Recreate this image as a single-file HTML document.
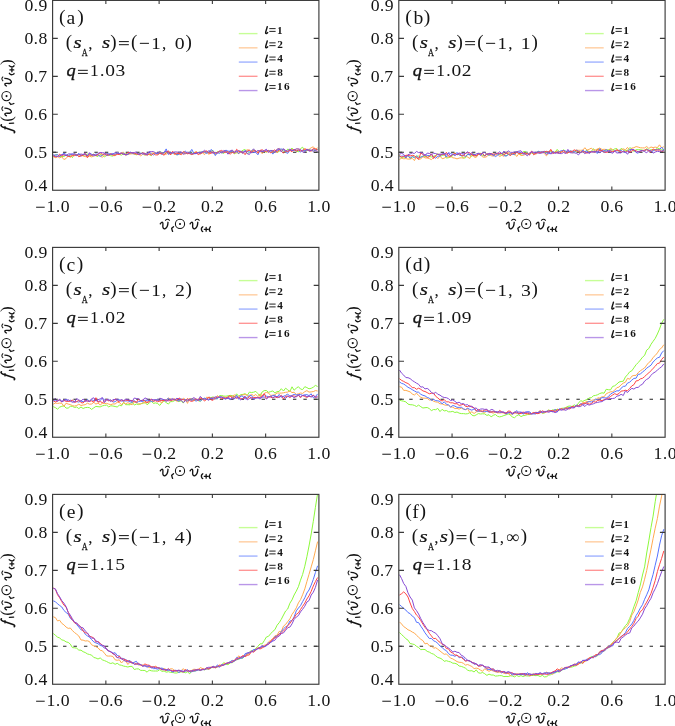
<!DOCTYPE html>
<html><head><meta charset="utf-8"><style>
html,body{margin:0;padding:0;background:#fff;width:675px;height:726px;overflow:hidden}
svg{position:absolute;left:0;top:0;will-change:transform}
text{font-family:"Liberation Serif",serif;fill:#141414}
</style></head><body>
<svg width="675" height="726" viewBox="0 0 675 726">

<clipPath id="cp00"><rect x="52.60" y="0.40" width="266.30" height="189.85"/></clipPath>
<line x1="52.60" y1="152.28" x2="318.90" y2="152.28" stroke="#222" stroke-width="1.1" stroke-dasharray="3.4 7.05"/>
<g clip-path="url(#cp00)" fill="none" stroke-width="1" stroke-linejoin="round">
<path stroke="rgb(140,248,60)" d="M53.3 156.4L55.4 154.8L57.5 154.8L59.7 156.7L61.8 156.4L63.9 156.5L66.1 155.2L68.2 155.8L70.3 154.8L72.4 157.7L74.6 153.7L76.7 155.5L78.8 154.6L81.0 155.4L83.1 155.6L85.2 154.6L87.4 154.1L89.5 155.2L91.6 155.1L93.8 154.1L95.9 155.8L98.0 156.5L100.2 154.3L102.3 155.4L104.4 156.8L106.6 155.5L108.7 155.0L110.8 155.8L112.9 156.1L115.1 154.3L117.2 153.3L119.3 154.5L121.5 155.1L123.6 153.7L125.7 153.3L127.9 154.4L130.0 153.4L132.1 152.8L134.3 154.2L136.4 154.8L138.5 153.5L140.7 153.5L142.8 152.5L144.9 155.2L147.1 154.4L149.2 154.6L151.3 155.6L153.4 153.4L155.6 152.9L157.7 154.3L159.8 151.9L162.0 152.5L164.1 152.7L166.2 152.9L168.4 152.2L170.5 154.8L172.6 152.5L174.8 152.5L176.9 155.2L179.0 152.7L181.2 153.4L183.3 152.2L185.4 153.5L187.5 153.0L189.7 152.6L191.8 153.9L193.9 152.2L196.1 153.0L198.2 152.2L200.3 153.4L202.5 151.5L204.6 152.0L206.7 152.9L208.9 151.9L211.0 151.1L213.1 150.5L215.3 154.3L217.4 151.4L219.5 151.9L221.7 152.5L223.8 153.5L225.9 150.8L228.0 153.7L230.2 151.5L232.3 150.6L234.4 153.9L236.6 152.4L238.7 153.5L240.8 151.7L243.0 150.2L245.1 149.5L247.2 153.8L249.4 152.4L251.5 150.9L253.6 149.8L255.8 151.1L257.9 152.3L260.0 151.1L262.2 151.4L264.3 151.5L266.4 152.1L268.5 150.8L270.7 150.8L272.8 151.2L274.9 151.3L277.1 152.4L279.2 151.4L281.3 149.5L283.5 151.0L285.6 152.3L287.7 149.1L289.9 150.0L292.0 148.1L294.1 150.4L296.3 150.9L298.4 151.9L300.5 148.7L302.6 147.2L304.8 151.0L306.9 150.8L309.0 149.3L311.2 150.8L313.3 150.1L315.4 150.1L317.6 149.4"/>
<path stroke="rgb(255,170,80)" d="M53.3 156.7L55.4 157.7L57.5 156.5L59.7 157.9L61.8 156.8L63.9 159.5L66.1 158.5L68.2 155.8L70.3 157.3L72.4 155.8L74.6 155.7L76.7 154.7L78.8 155.2L81.0 154.8L83.1 156.0L85.2 156.6L87.4 156.6L89.5 156.2L91.6 156.9L93.8 156.1L95.9 155.5L98.0 155.1L100.2 155.7L102.3 157.4L104.4 155.2L106.6 154.8L108.7 153.8L110.8 154.3L112.9 155.6L115.1 155.7L117.2 152.5L119.3 153.9L121.5 152.6L123.6 152.2L125.7 155.5L127.9 154.1L130.0 154.0L132.1 153.8L134.3 153.8L136.4 154.1L138.5 154.1L140.7 155.9L142.8 154.3L144.9 155.0L147.1 153.9L149.2 154.5L151.3 153.2L153.4 153.0L155.6 153.5L157.7 153.4L159.8 153.6L162.0 154.2L164.1 153.8L166.2 154.2L168.4 153.1L170.5 153.5L172.6 152.8L174.8 155.0L176.9 152.4L179.0 154.2L181.2 154.1L183.3 153.5L185.4 153.9L187.5 152.9L189.7 153.8L191.8 154.3L193.9 154.0L196.1 151.5L198.2 152.9L200.3 154.2L202.5 152.9L204.6 154.6L206.7 150.7L208.9 154.5L211.0 152.1L213.1 152.0L215.3 154.2L217.4 152.2L219.5 151.3L221.7 151.9L223.8 152.0L225.9 151.2L228.0 152.0L230.2 151.8L232.3 152.2L234.4 151.3L236.6 153.0L238.7 151.0L240.8 152.4L243.0 153.0L245.1 151.2L247.2 149.7L249.4 150.4L251.5 152.0L253.6 150.6L255.8 151.8L257.9 151.3L260.0 151.0L262.2 153.7L264.3 150.7L266.4 152.0L268.5 151.6L270.7 152.4L272.8 152.3L274.9 151.6L277.1 149.5L279.2 148.4L281.3 150.3L283.5 148.9L285.6 150.4L287.7 152.1L289.9 149.7L292.0 149.3L294.1 150.2L296.3 149.2L298.4 148.8L300.5 150.4L302.6 151.0L304.8 149.4L306.9 149.3L309.0 149.4L311.2 147.7L313.3 146.8L315.4 149.1L317.6 147.8"/>
<path stroke="rgb(85,115,255)" d="M53.3 155.0L55.4 155.1L57.5 154.6L59.7 156.2L61.8 154.8L63.9 153.2L66.1 154.5L68.2 156.1L70.3 154.6L72.4 153.7L74.6 154.7L76.7 155.7L78.8 153.2L81.0 156.3L83.1 154.2L85.2 154.8L87.4 156.0L89.5 153.2L91.6 154.2L93.8 155.8L95.9 153.8L98.0 154.9L100.2 156.5L102.3 155.1L104.4 153.9L106.6 153.4L108.7 153.9L110.8 154.0L112.9 153.5L115.1 154.2L117.2 152.6L119.3 153.7L121.5 153.5L123.6 153.2L125.7 154.9L127.9 154.5L130.0 151.9L132.1 153.2L134.3 153.9L136.4 153.1L138.5 154.0L140.7 153.1L142.8 154.2L144.9 153.1L147.1 155.1L149.2 151.8L151.3 153.8L153.4 155.0L155.6 153.5L157.7 153.6L159.8 153.0L162.0 154.4L164.1 152.6L166.2 148.9L168.4 154.5L170.5 152.6L172.6 153.3L174.8 152.7L176.9 155.0L179.0 154.2L181.2 152.4L183.3 152.9L185.4 151.0L187.5 153.6L189.7 152.6L191.8 149.4L193.9 153.6L196.1 153.7L198.2 152.7L200.3 152.7L202.5 151.7L204.6 152.4L206.7 153.4L208.9 152.3L211.0 149.5L213.1 151.0L215.3 155.6L217.4 152.6L219.5 153.4L221.7 151.6L223.8 152.5L225.9 150.1L228.0 151.2L230.2 151.2L232.3 151.9L234.4 152.2L236.6 151.7L238.7 150.6L240.8 151.4L243.0 152.4L245.1 150.5L247.2 151.6L249.4 151.9L251.5 152.7L253.6 152.4L255.8 152.4L257.9 154.8L260.0 150.4L262.2 150.9L264.3 151.7L266.4 150.2L268.5 150.9L270.7 150.9L272.8 154.1L274.9 151.5L277.1 150.6L279.2 149.3L281.3 149.0L283.5 149.4L285.6 152.3L287.7 153.4L289.9 150.2L292.0 150.7L294.1 149.6L296.3 150.8L298.4 150.3L300.5 152.2L302.6 150.0L304.8 150.9L306.9 150.0L309.0 149.8L311.2 150.4L313.3 149.8L315.4 150.1L317.6 149.2"/>
<path stroke="rgb(255,70,70)" d="M53.3 155.9L55.4 156.9L57.5 156.9L59.7 154.1L61.8 156.1L63.9 154.8L66.1 155.4L68.2 156.4L70.3 156.5L72.4 155.4L74.6 155.2L76.7 154.7L78.8 156.8L81.0 155.9L83.1 155.3L85.2 153.3L87.4 157.8L89.5 154.5L91.6 155.6L93.8 154.4L95.9 155.4L98.0 154.4L100.2 152.9L102.3 154.3L104.4 154.1L106.6 154.1L108.7 155.4L110.8 153.8L112.9 154.7L115.1 155.3L117.2 154.4L119.3 154.5L121.5 153.4L123.6 154.2L125.7 154.7L127.9 152.4L130.0 152.9L132.1 152.6L134.3 153.3L136.4 154.0L138.5 154.3L140.7 154.1L142.8 152.7L144.9 153.6L147.1 155.4L149.2 153.7L151.3 155.2L153.4 153.4L155.6 154.9L157.7 154.9L159.8 153.3L162.0 153.5L164.1 155.3L166.2 152.5L168.4 150.8L170.5 155.0L172.6 151.2L174.8 154.0L176.9 153.7L179.0 153.3L181.2 154.7L183.3 151.6L185.4 152.5L187.5 153.8L189.7 153.3L191.8 154.6L193.9 153.3L196.1 151.8L198.2 154.8L200.3 153.3L202.5 152.6L204.6 151.5L206.7 151.1L208.9 153.1L211.0 153.4L213.1 152.0L215.3 152.9L217.4 152.8L219.5 151.2L221.7 150.4L223.8 152.0L225.9 152.5L228.0 151.6L230.2 154.3L232.3 152.2L234.4 153.3L236.6 149.3L238.7 151.2L240.8 151.8L243.0 152.1L245.1 154.7L247.2 151.0L249.4 149.9L251.5 152.5L253.6 150.8L255.8 150.7L257.9 153.3L260.0 150.4L262.2 149.8L264.3 151.1L266.4 151.3L268.5 150.3L270.7 152.9L272.8 151.0L274.9 149.8L277.1 152.4L279.2 149.8L281.3 151.3L283.5 153.1L285.6 150.8L287.7 151.7L289.9 150.2L292.0 151.8L294.1 149.2L296.3 151.2L298.4 149.9L300.5 150.9L302.6 150.5L304.8 148.7L306.9 149.8L309.0 150.4L311.2 151.3L313.3 148.5L315.4 148.9L317.6 150.0"/>
<path stroke="rgb(135,75,212)" d="M53.3 155.0L55.4 156.4L57.5 156.3L59.7 156.0L61.8 154.6L63.9 154.6L66.1 155.8L68.2 154.0L70.3 153.9L72.4 154.5L74.6 153.5L76.7 155.0L78.8 154.7L81.0 154.0L83.1 154.5L85.2 153.5L87.4 155.8L89.5 152.7L91.6 155.1L93.8 154.4L95.9 155.7L98.0 153.4L100.2 152.5L102.3 152.7L104.4 152.9L106.6 155.6L108.7 154.7L110.8 154.2L112.9 154.7L115.1 152.3L117.2 153.4L119.3 153.5L121.5 152.9L123.6 154.5L125.7 154.4L127.9 154.3L130.0 152.7L132.1 152.8L134.3 152.5L136.4 151.9L138.5 154.6L140.7 153.7L142.8 152.9L144.9 154.5L147.1 153.6L149.2 151.8L151.3 151.6L153.4 151.6L155.6 152.8L157.7 153.0L159.8 151.5L162.0 153.2L164.1 152.3L166.2 151.2L168.4 153.1L170.5 153.3L172.6 152.6L174.8 151.9L176.9 152.0L179.0 152.3L181.2 151.9L183.3 154.3L185.4 153.4L187.5 152.2L189.7 153.4L191.8 153.9L193.9 153.7L196.1 153.4L198.2 152.5L200.3 153.4L202.5 152.0L204.6 150.3L206.7 152.3L208.9 150.7L211.0 151.8L213.1 153.4L215.3 152.4L217.4 153.1L219.5 151.1L221.7 153.3L223.8 150.4L225.9 151.2L228.0 154.2L230.2 150.9L232.3 150.0L234.4 152.7L236.6 150.6L238.7 153.7L240.8 151.4L243.0 153.5L245.1 151.0L247.2 153.6L249.4 154.5L251.5 151.0L253.6 148.8L255.8 152.0L257.9 150.4L260.0 151.2L262.2 151.6L264.3 150.5L266.4 149.3L268.5 152.5L270.7 150.4L272.8 150.6L274.9 152.6L277.1 149.1L279.2 148.7L281.3 151.9L283.5 148.8L285.6 150.7L287.7 150.9L289.9 149.0L292.0 150.4L294.1 150.2L296.3 148.8L298.4 149.0L300.5 149.4L302.6 152.0L304.8 152.1L306.9 149.0L309.0 151.3L311.2 150.0L313.3 151.4L315.4 150.3L317.6 151.5"/>
</g>
<rect x="52.60" y="0.40" width="266.30" height="189.85" fill="none" stroke="#3a3a3a" stroke-width="1.15"/>
<path d="M105.86 190.25v-3.7M105.86 0.40v3.7M159.12 190.25v-3.7M159.12 0.40v3.7M212.38 190.25v-3.7M212.38 0.40v3.7M265.64 190.25v-3.7M265.64 0.40v3.7M52.60 152.28h5.2M318.90 152.28h-5.2M52.60 114.31h5.2M318.90 114.31h-5.2M52.60 76.34h5.2M318.90 76.34h-5.2M52.60 38.37h5.2M318.90 38.37h-5.2" stroke="#3a3a3a" stroke-width="1.1" fill="none"/>
<text transform="translate(28.95 190.95) scale(1.080 1)" text-anchor="middle" style="font-size:16.40px">0</text>
<text x="35.90" y="190.95" text-anchor="middle" style="font-size:16.40px">.</text>
<text transform="translate(42.86 190.95) scale(1.080 1)" text-anchor="middle" style="font-size:16.40px">4</text>
<text transform="translate(28.95 158.28) scale(1.080 1)" text-anchor="middle" style="font-size:16.40px">0</text>
<text x="35.90" y="158.28" text-anchor="middle" style="font-size:16.40px">.</text>
<text transform="translate(42.72 158.28) scale(1.080 1)" text-anchor="middle" style="font-size:16.40px">5</text>
<text transform="translate(28.95 120.31) scale(1.080 1)" text-anchor="middle" style="font-size:16.40px">0</text>
<text x="35.90" y="120.31" text-anchor="middle" style="font-size:16.40px">.</text>
<text transform="translate(42.76 120.31) scale(1.080 1)" text-anchor="middle" style="font-size:16.40px">6</text>
<text transform="translate(28.95 82.34) scale(1.080 1)" text-anchor="middle" style="font-size:16.40px">0</text>
<text x="35.90" y="82.34" text-anchor="middle" style="font-size:16.40px">.</text>
<text transform="translate(42.60 82.34) scale(1.080 1)" text-anchor="middle" style="font-size:16.40px">7</text>
<text transform="translate(28.95 44.37) scale(1.080 1)" text-anchor="middle" style="font-size:16.40px">0</text>
<text x="35.90" y="44.37" text-anchor="middle" style="font-size:16.40px">.</text>
<text transform="translate(42.90 44.37) scale(1.080 1)" text-anchor="middle" style="font-size:16.40px">8</text>
<text transform="translate(28.95 11.10) scale(1.080 1)" text-anchor="middle" style="font-size:16.40px">0</text>
<text x="35.90" y="11.10" text-anchor="middle" style="font-size:16.40px">.</text>
<text transform="translate(42.99 11.10) scale(1.080 1)" text-anchor="middle" style="font-size:16.40px">9</text>
<path d="M36.10 207.25H44.70" stroke="#2a2a2a" stroke-width="1.10"/>
<text transform="translate(51.03 211.75) scale(1.080 1)" text-anchor="middle" style="font-size:16.40px">1</text>
<text x="58.15" y="211.75" text-anchor="middle" style="font-size:16.40px">.</text>
<text transform="translate(65.10 211.75) scale(1.080 1)" text-anchor="middle" style="font-size:16.40px">0</text>
<path d="M89.36 207.25H97.96" stroke="#2a2a2a" stroke-width="1.10"/>
<text transform="translate(104.56 211.75) scale(1.080 1)" text-anchor="middle" style="font-size:16.40px">0</text>
<text x="111.41" y="211.75" text-anchor="middle" style="font-size:16.40px">.</text>
<text transform="translate(118.22 211.75) scale(1.080 1)" text-anchor="middle" style="font-size:16.40px">6</text>
<path d="M142.62 207.25H151.22" stroke="#2a2a2a" stroke-width="1.10"/>
<text transform="translate(157.82 211.75) scale(1.080 1)" text-anchor="middle" style="font-size:16.40px">0</text>
<text x="164.67" y="211.75" text-anchor="middle" style="font-size:16.40px">.</text>
<text transform="translate(171.71 211.75) scale(1.080 1)" text-anchor="middle" style="font-size:16.40px">2</text>
<text transform="translate(205.38 211.75) scale(1.080 1)" text-anchor="middle" style="font-size:16.40px">0</text>
<text x="212.38" y="211.75" text-anchor="middle" style="font-size:16.40px">.</text>
<text transform="translate(219.47 211.75) scale(1.080 1)" text-anchor="middle" style="font-size:16.40px">2</text>
<text transform="translate(258.64 211.75) scale(1.080 1)" text-anchor="middle" style="font-size:16.40px">0</text>
<text x="265.64" y="211.75" text-anchor="middle" style="font-size:16.40px">.</text>
<text transform="translate(272.50 211.75) scale(1.080 1)" text-anchor="middle" style="font-size:16.40px">6</text>
<text transform="translate(311.63 211.75) scale(1.080 1)" text-anchor="middle" style="font-size:16.40px">1</text>
<text x="318.90" y="211.75" text-anchor="middle" style="font-size:16.40px">.</text>
<text transform="translate(325.90 211.75) scale(1.080 1)" text-anchor="middle" style="font-size:16.40px">0</text>
<path d="M238.80 33.60H257.50" stroke="rgb(198,254,150)" stroke-width="1.4"/>
<path d="M267.25 26.70 C266.65 29.60 265.45 31.60 265.65 33.00 C265.85 33.90 266.95 33.70 267.65 32.60" stroke="#141414" stroke-width="1.45" fill="none" stroke-linecap="round"/>
<path d="M269.30 28.60H275.60" stroke="#2a2a2a" stroke-width="1.05"/>
<path d="M269.30 31.40H275.60" stroke="#2a2a2a" stroke-width="1.05"/>
<text x="279.83" y="33.50" text-anchor="middle" style="font-size:11.20px;font-weight:bold">1</text>
<path d="M238.80 47.84H257.50" stroke="rgb(255,205,160)" stroke-width="1.4"/>
<path d="M267.25 40.94 C266.65 43.84 265.45 45.84 265.65 47.24 C265.85 48.14 266.95 47.94 267.65 46.84" stroke="#141414" stroke-width="1.45" fill="none" stroke-linecap="round"/>
<path d="M269.30 42.84H275.60" stroke="#2a2a2a" stroke-width="1.05"/>
<path d="M269.30 45.64H275.60" stroke="#2a2a2a" stroke-width="1.05"/>
<text x="280.02" y="47.74" text-anchor="middle" style="font-size:11.20px;font-weight:bold">2</text>
<path d="M238.80 62.08H257.50" stroke="rgb(160,178,255)" stroke-width="1.4"/>
<path d="M267.25 55.18 C266.65 58.08 265.45 60.08 265.65 61.48 C265.85 62.38 266.95 62.18 267.65 61.08" stroke="#141414" stroke-width="1.45" fill="none" stroke-linecap="round"/>
<path d="M269.30 57.08H275.60" stroke="#2a2a2a" stroke-width="1.05"/>
<path d="M269.30 59.88H275.60" stroke="#2a2a2a" stroke-width="1.05"/>
<text x="280.02" y="61.98" text-anchor="middle" style="font-size:11.20px;font-weight:bold">4</text>
<path d="M238.80 76.32H257.50" stroke="rgb(255,150,150)" stroke-width="1.4"/>
<path d="M267.25 69.42 C266.65 72.32 265.45 74.32 265.65 75.72 C265.85 76.62 266.95 76.42 267.65 75.32" stroke="#141414" stroke-width="1.45" fill="none" stroke-linecap="round"/>
<path d="M269.30 71.32H275.60" stroke="#2a2a2a" stroke-width="1.05"/>
<path d="M269.30 74.12H275.60" stroke="#2a2a2a" stroke-width="1.05"/>
<text x="280.00" y="76.22" text-anchor="middle" style="font-size:11.20px;font-weight:bold">8</text>
<path d="M238.80 90.56H257.50" stroke="rgb(185,150,232)" stroke-width="1.4"/>
<path d="M267.25 83.66 C266.65 86.56 265.45 88.56 265.65 89.96 C265.85 90.86 266.95 90.66 267.65 89.56" stroke="#141414" stroke-width="1.45" fill="none" stroke-linecap="round"/>
<path d="M269.30 85.56H275.60" stroke="#2a2a2a" stroke-width="1.05"/>
<path d="M269.30 88.36H275.60" stroke="#2a2a2a" stroke-width="1.05"/>
<text x="279.83" y="90.46" text-anchor="middle" style="font-size:11.20px;font-weight:bold">1</text>
<text x="286.73" y="90.46" text-anchor="middle" style="font-size:11.20px;font-weight:bold">6</text>
<text x="62.29" y="23.40" text-anchor="middle" style="font-size:19.60px">(</text>
<text x="70.95" y="23.90" text-anchor="middle" style="font-size:19.60px">a</text>
<text x="80.63" y="23.40" text-anchor="middle" style="font-size:19.60px">)</text>
<text x="68.85" y="47.90" text-anchor="middle" style="font-size:19.00px">(</text>
<text x="134.20" y="47.90" text-anchor="middle" style="font-size:19.00px">(</text>
<text x="113.37" y="47.90" text-anchor="middle" style="font-size:19.00px">)</text>
<text x="188.57" y="47.90" text-anchor="middle" style="font-size:19.00px">)</text>
<text transform="translate(77.59 47.80) scale(1.250 1)" text-anchor="middle" style="font-size:16.80px;font-style:italic;stroke:#141414;stroke-width:0.22px">s</text>
<text transform="translate(106.04 47.80) scale(1.250 1)" text-anchor="middle" style="font-size:16.80px;font-style:italic;stroke:#141414;stroke-width:0.22px">s</text>
<text transform="translate(84.69 55.90) scale(0.760 1)" text-anchor="middle" style="font-size:10.80px;stroke:#141414;stroke-width:0.25px">A</text>
<text x="90.37" y="48.50" text-anchor="middle" style="font-size:17.20px">,</text>
<text x="164.22" y="48.50" text-anchor="middle" style="font-size:17.20px">,</text>
<path d="M118.95 41.57H128.85" stroke="#2a2a2a" stroke-width="1.10"/>
<path d="M118.95 44.65H128.85" stroke="#2a2a2a" stroke-width="1.10"/>
<path d="M139.85 43.37H148.95" stroke="#2a2a2a" stroke-width="1.10"/>
<text transform="translate(155.92 48.50) scale(1.100 1)" text-anchor="middle" style="font-size:17.20px">1</text>
<text transform="translate(179.80 48.50) scale(1.150 1)" text-anchor="middle" style="font-size:17.20px">0</text>
<text transform="translate(71.11 75.70) scale(1.050 1)" text-anchor="middle" style="font-size:17.50px;font-style:italic;stroke:#141414;stroke-width:0.35px">q</text>
<path d="M77.96 70.35H87.80" stroke="#2a2a2a" stroke-width="1.10"/>
<path d="M77.96 73.43H87.80" stroke="#2a2a2a" stroke-width="1.10"/>
<text x="94.29" y="76.30" text-anchor="middle" style="font-size:17.40px">1</text>
<text x="102.30" y="76.30" text-anchor="middle" style="font-size:17.40px">.</text>
<text transform="translate(110.05 76.30) scale(1.120 1)" text-anchor="middle" style="font-size:17.40px">0</text>
<text transform="translate(120.30 76.30) scale(1.120 1)" text-anchor="middle" style="font-size:17.40px">3</text>
<g transform="translate(6.45 96.10) rotate(-90)"><path d="M-19.70 0.0 C-19.10 -1.3 -18.00 -2.0 -17.30 -1.3 C-16.60 -0.5 -17.60 2.1 -17.00 3.7 C-16.60 4.8 -15.70 5.2 -14.80 4.7 C-13.20 3.9 -12.10 1.5 -12.00 -1.6" stroke-width="1.35" fill="none" stroke="#141414" stroke-linecap="round"/><path d="M-14.80 -3.3 Q-12.50 -5.9 -10.30 -3.3" stroke-width="1.05" fill="none" stroke="#141414"/><path d="M-6.5 2.9 L-8.3 4.4 C-8.1 5.6 -7.8 6.7 -7.4 7.4" stroke="#141414" stroke-width="1.35" stroke-linecap="round" fill="none"/><circle cx="0" cy="0" r="4.6" fill="none" stroke="#141414" stroke-width="1.05"/><circle cx="0" cy="0.1" r="1.05" fill="#141414"/><path d="M10.10 0.0 C10.70 -1.3 11.80 -2.0 12.50 -1.3 C13.20 -0.5 12.20 2.1 12.80 3.7 C13.20 4.8 14.10 5.2 15.00 4.7 C16.60 3.9 17.70 1.5 17.80 -1.6" stroke-width="1.35" fill="none" stroke="#141414" stroke-linecap="round"/><path d="M15.00 -3.3 Q17.30 -5.9 19.50 -3.3" stroke-width="1.05" fill="none" stroke="#141414"/><path d="M22.8 2.9 C21.7 3.6 21.1 5.0 21.6 6.3 C21.9 7.1 22.3 7.6 22.7 7.6 M24.3 5.45 H28.0 M26.15 3.5 V7.3 M30.4 2.8 C29.5 4.0 29.2 5.8 29.5 6.7 C29.7 7.4 30.1 7.7 30.5 7.5" stroke="#141414" stroke-width="1.3" stroke-linecap="round" fill="none"/><path d="M-28.7 -5.1 C-29.3 -5.8 -30.4 -5.1 -30.9 -3.8 L-34.3 6.6 C-34.8 8.0 -35.8 8.6 -36.6 7.8" stroke="#141414" stroke-width="1.6" fill="none" stroke-linecap="round"/><path d="M-33.5 -1.45 H-29.8" stroke="#141414" stroke-width="1.1" fill="none"/><path d="M-27.2 2.9 L-27.0 7.2" stroke="#141414" stroke-width="1.3" stroke-linecap="round"/><text x="-22.94" y="5.30" text-anchor="middle" style="font-size:17.00px">(</text><text x="33.91" y="5.30" text-anchor="middle" style="font-size:17.00px">)</text></g>
<g transform="translate(180.00 223.90)"><path d="M-19.70 0.0 C-19.10 -1.3 -18.00 -2.0 -17.30 -1.3 C-16.60 -0.5 -17.60 2.1 -17.00 3.7 C-16.60 4.8 -15.70 5.2 -14.80 4.7 C-13.20 3.9 -12.10 1.5 -12.00 -1.6" stroke-width="1.35" fill="none" stroke="#141414" stroke-linecap="round"/><path d="M-14.80 -3.3 Q-12.50 -5.9 -10.30 -3.3" stroke-width="1.05" fill="none" stroke="#141414"/><path d="M-6.5 2.9 L-8.3 4.4 C-8.1 5.6 -7.8 6.7 -7.4 7.4" stroke="#141414" stroke-width="1.35" stroke-linecap="round" fill="none"/><circle cx="0" cy="0" r="4.6" fill="none" stroke="#141414" stroke-width="1.05"/><circle cx="0" cy="0.1" r="1.05" fill="#141414"/><path d="M10.10 0.0 C10.70 -1.3 11.80 -2.0 12.50 -1.3 C13.20 -0.5 12.20 2.1 12.80 3.7 C13.20 4.8 14.10 5.2 15.00 4.7 C16.60 3.9 17.70 1.5 17.80 -1.6" stroke-width="1.35" fill="none" stroke="#141414" stroke-linecap="round"/><path d="M15.00 -3.3 Q17.30 -5.9 19.50 -3.3" stroke-width="1.05" fill="none" stroke="#141414"/><path d="M22.8 2.9 C21.7 3.6 21.1 5.0 21.6 6.3 C21.9 7.1 22.3 7.6 22.7 7.6 M24.3 5.45 H28.0 M26.15 3.5 V7.3 M30.4 2.8 C29.5 4.0 29.2 5.8 29.5 6.7 C29.7 7.4 30.1 7.7 30.5 7.5" stroke="#141414" stroke-width="1.3" stroke-linecap="round" fill="none"/></g>
<clipPath id="cp10"><rect x="398.80" y="0.40" width="266.30" height="189.85"/></clipPath>
<line x1="398.80" y1="152.28" x2="665.10" y2="152.28" stroke="#222" stroke-width="1.1" stroke-dasharray="3.4 7.05"/>
<g clip-path="url(#cp10)" fill="none" stroke-width="1" stroke-linejoin="round">
<path stroke="rgb(140,248,60)" d="M399.5 155.3L401.6 158.3L403.7 157.2L405.9 157.2L408.0 155.6L410.1 158.5L412.3 156.9L414.4 157.0L416.5 156.1L418.6 156.1L420.8 157.1L422.9 156.2L425.0 156.9L427.2 155.8L429.3 156.4L431.4 157.0L433.6 156.2L435.7 155.7L437.8 153.5L440.0 156.5L442.1 155.6L444.2 154.2L446.4 158.1L448.5 157.7L450.6 157.0L452.8 155.7L454.9 152.7L457.0 155.0L459.1 154.0L461.3 155.6L463.4 158.1L465.5 157.8L467.7 154.0L469.8 154.8L471.9 156.5L474.1 153.6L476.2 156.6L478.3 153.5L480.5 153.1L482.6 155.5L484.7 155.8L486.9 153.5L489.0 155.7L491.1 153.4L493.3 155.7L495.4 153.3L497.5 154.1L499.6 154.6L501.8 155.0L503.9 153.7L506.0 156.0L508.2 154.1L510.3 154.2L512.4 152.9L514.6 155.0L516.7 151.6L518.8 153.8L521.0 154.7L523.1 151.8L525.2 151.4L527.4 153.4L529.5 154.1L531.6 153.0L533.7 153.8L535.9 153.3L538.0 151.1L540.1 152.3L542.3 152.5L544.4 152.2L546.5 152.6L548.7 151.5L550.8 151.4L552.9 152.7L555.1 152.1L557.2 149.4L559.3 151.6L561.5 152.2L563.6 149.6L565.7 151.9L567.9 153.0L570.0 150.9L572.1 152.7L574.2 152.1L576.4 151.1L578.5 151.6L580.6 152.2L582.8 151.9L584.9 151.9L587.0 149.8L589.2 151.9L591.3 151.6L593.4 148.6L595.6 151.5L597.7 149.1L599.8 149.2L602.0 150.8L604.1 152.2L606.2 150.0L608.4 149.7L610.5 149.3L612.6 150.2L614.7 148.9L616.9 148.6L619.0 151.3L621.1 148.4L623.3 149.8L625.4 150.6L627.5 150.3L629.7 147.7L631.8 148.6L633.9 151.7L636.1 149.6L638.2 149.7L640.3 149.7L642.5 150.1L644.6 151.1L646.7 148.4L648.8 150.4L651.0 149.7L653.1 149.9L655.2 149.9L657.4 148.2L659.5 148.6L661.6 149.7L663.8 150.0"/>
<path stroke="rgb(255,170,80)" d="M399.5 159.6L401.6 157.9L403.7 158.8L405.9 158.6L408.0 159.1L410.1 159.0L412.3 158.4L414.4 160.6L416.5 156.6L418.6 159.3L420.8 158.9L422.9 156.7L425.0 157.9L427.2 158.0L429.3 158.6L431.4 159.6L433.6 157.6L435.7 156.3L437.8 158.6L440.0 156.0L442.1 158.7L444.2 158.2L446.4 156.7L448.5 157.2L450.6 156.3L452.8 157.8L454.9 158.1L457.0 158.9L459.1 158.1L461.3 157.8L463.4 158.1L465.5 156.1L467.7 157.1L469.8 158.5L471.9 153.3L474.1 157.0L476.2 157.4L478.3 154.5L480.5 154.4L482.6 157.0L484.7 157.3L486.9 156.6L489.0 154.1L491.1 155.7L493.3 156.1L495.4 155.1L497.5 153.6L499.6 156.5L501.8 155.3L503.9 156.3L506.0 152.1L508.2 152.5L510.3 153.3L512.4 154.5L514.6 153.5L516.7 156.5L518.8 153.7L521.0 155.5L523.1 155.3L525.2 154.5L527.4 154.0L529.5 152.9L531.6 152.6L533.7 153.0L535.9 154.3L538.0 152.4L540.1 153.2L542.3 151.6L544.4 153.9L546.5 155.8L548.7 153.1L550.8 150.0L552.9 151.8L555.1 152.5L557.2 151.1L559.3 151.5L561.5 151.4L563.6 152.4L565.7 151.6L567.9 151.4L570.0 152.2L572.1 152.6L574.2 151.1L576.4 150.0L578.5 150.3L580.6 150.3L582.8 150.2L584.9 147.7L587.0 150.3L589.2 149.3L591.3 148.1L593.4 150.2L595.6 149.8L597.7 148.9L599.8 148.0L602.0 149.5L604.1 149.3L606.2 149.5L608.4 150.9L610.5 148.2L612.6 149.6L614.7 151.2L616.9 149.3L619.0 151.0L621.1 150.1L623.3 148.8L625.4 149.8L627.5 147.4L629.7 150.2L631.8 148.1L633.9 147.7L636.1 146.6L638.2 147.1L640.3 147.8L642.5 147.9L644.6 147.9L646.7 146.5L648.8 148.4L651.0 147.0L653.1 147.6L655.2 147.1L657.4 147.6L659.5 144.8L661.6 147.8L663.8 146.7"/>
<path stroke="rgb(85,115,255)" d="M399.5 156.5L401.6 156.1L403.7 156.2L405.9 156.1L408.0 155.4L410.1 158.2L412.3 156.4L414.4 157.8L416.5 156.1L418.6 157.6L420.8 157.3L422.9 156.2L425.0 154.5L427.2 155.4L429.3 155.6L431.4 154.3L433.6 156.9L435.7 158.2L437.8 156.2L440.0 156.0L442.1 154.2L444.2 153.1L446.4 157.0L448.5 152.6L450.6 153.6L452.8 154.3L454.9 154.8L457.0 152.4L459.1 155.0L461.3 155.6L463.4 154.8L465.5 156.5L467.7 154.3L469.8 154.9L471.9 154.4L474.1 154.3L476.2 155.8L478.3 153.1L480.5 155.6L482.6 153.4L484.7 156.2L486.9 153.9L489.0 155.2L491.1 154.1L493.3 154.9L495.4 156.6L497.5 155.3L499.6 153.9L501.8 153.2L503.9 155.5L506.0 156.2L508.2 154.7L510.3 153.9L512.4 154.3L514.6 154.4L516.7 152.5L518.8 152.3L521.0 152.5L523.1 154.3L525.2 153.1L527.4 153.4L529.5 154.7L531.6 152.0L533.7 152.9L535.9 153.5L538.0 151.2L540.1 151.9L542.3 151.7L544.4 151.3L546.5 151.8L548.7 154.0L550.8 152.9L552.9 151.3L555.1 153.2L557.2 152.2L559.3 151.8L561.5 150.5L563.6 150.6L565.7 151.0L567.9 152.2L570.0 150.9L572.1 151.2L574.2 152.0L576.4 150.2L578.5 151.1L580.6 152.5L582.8 150.1L584.9 151.8L587.0 150.8L589.2 153.1L591.3 151.3L593.4 152.3L595.6 152.3L597.7 153.3L599.8 148.7L602.0 151.2L604.1 150.7L606.2 149.7L608.4 151.0L610.5 150.2L612.6 152.3L614.7 150.5L616.9 151.1L619.0 150.1L621.1 150.4L623.3 152.1L625.4 152.6L627.5 151.6L629.7 149.5L631.8 149.8L633.9 149.8L636.1 152.5L638.2 153.2L640.3 150.8L642.5 150.5L644.6 150.7L646.7 149.6L648.8 150.1L651.0 151.3L653.1 150.9L655.2 149.7L657.4 149.7L659.5 149.8L661.6 147.1L663.8 149.9"/>
<path stroke="rgb(255,70,70)" d="M399.5 155.9L401.6 157.1L403.7 156.4L405.9 155.3L408.0 155.2L410.1 156.0L412.3 155.3L414.4 155.7L416.5 157.8L418.6 159.4L420.8 152.9L422.9 154.6L425.0 155.5L427.2 157.4L429.3 156.8L431.4 153.8L433.6 158.5L435.7 155.6L437.8 154.2L440.0 155.0L442.1 154.2L444.2 155.2L446.4 152.3L448.5 156.1L450.6 156.4L452.8 154.5L454.9 153.2L457.0 154.8L459.1 153.5L461.3 155.3L463.4 156.0L465.5 153.0L467.7 152.7L469.8 152.7L471.9 154.9L474.1 155.7L476.2 155.6L478.3 154.5L480.5 153.6L482.6 153.6L484.7 155.8L486.9 153.8L489.0 154.0L491.1 153.9L493.3 153.9L495.4 154.1L497.5 153.1L499.6 153.6L501.8 153.5L503.9 154.5L506.0 153.2L508.2 153.7L510.3 155.9L512.4 152.9L514.6 153.7L516.7 152.3L518.8 153.5L521.0 153.4L523.1 153.0L525.2 153.2L527.4 153.7L529.5 155.1L531.6 150.9L533.7 154.8L535.9 153.3L538.0 152.2L540.1 152.4L542.3 152.2L544.4 151.9L546.5 151.3L548.7 152.3L550.8 149.3L552.9 153.7L555.1 152.2L557.2 152.9L559.3 153.0L561.5 152.0L563.6 150.6L565.7 153.1L567.9 153.0L570.0 151.3L572.1 151.5L574.2 149.8L576.4 150.8L578.5 151.7L580.6 152.3L582.8 151.6L584.9 152.0L587.0 153.3L589.2 151.7L591.3 151.9L593.4 151.9L595.6 152.1L597.7 149.6L599.8 150.7L602.0 150.4L604.1 152.1L606.2 152.5L608.4 151.7L610.5 151.0L612.6 151.6L614.7 151.4L616.9 150.1L619.0 150.8L621.1 152.2L623.3 151.5L625.4 151.8L627.5 150.8L629.7 152.3L631.8 151.1L633.9 150.1L636.1 150.8L638.2 151.8L640.3 151.5L642.5 150.6L644.6 150.1L646.7 149.7L648.8 150.8L651.0 152.1L653.1 148.9L655.2 150.2L657.4 150.0L659.5 150.1L661.6 151.6L663.8 150.8"/>
<path stroke="rgb(135,75,212)" d="M399.5 154.3L401.6 153.3L403.7 154.4L405.9 158.0L408.0 154.7L410.1 154.0L412.3 152.9L414.4 153.5L416.5 151.4L418.6 152.6L420.8 152.7L422.9 153.1L425.0 155.7L427.2 153.1L429.3 153.4L431.4 154.6L433.6 153.3L435.7 153.5L437.8 154.5L440.0 154.1L442.1 154.2L444.2 153.6L446.4 154.3L448.5 153.2L450.6 155.9L452.8 154.1L454.9 155.6L457.0 154.2L459.1 153.0L461.3 153.6L463.4 153.7L465.5 153.5L467.7 151.7L469.8 154.7L471.9 152.4L474.1 155.1L476.2 153.9L478.3 153.2L480.5 154.3L482.6 153.1L484.7 152.4L486.9 154.6L489.0 153.3L491.1 153.6L493.3 155.4L495.4 153.3L497.5 154.0L499.6 151.6L501.8 154.0L503.9 151.1L506.0 153.6L508.2 150.8L510.3 152.3L512.4 152.4L514.6 152.0L516.7 151.8L518.8 151.2L521.0 150.8L523.1 153.2L525.2 154.2L527.4 155.8L529.5 153.1L531.6 151.8L533.7 152.2L535.9 152.5L538.0 153.0L540.1 153.3L542.3 152.9L544.4 152.1L546.5 154.5L548.7 151.6L550.8 154.1L552.9 152.6L555.1 153.1L557.2 152.8L559.3 153.5L561.5 153.6L563.6 152.5L565.7 153.5L567.9 149.4L570.0 152.7L572.1 152.9L574.2 152.8L576.4 153.3L578.5 154.9L580.6 152.4L582.8 151.7L584.9 153.7L587.0 152.0L589.2 153.4L591.3 152.0L593.4 151.5L595.6 151.4L597.7 151.4L599.8 152.7L602.0 150.9L604.1 152.4L606.2 151.5L608.4 151.0L610.5 152.2L612.6 153.3L614.7 151.1L616.9 153.0L619.0 152.8L621.1 153.0L623.3 150.8L625.4 151.9L627.5 154.3L629.7 150.9L631.8 149.3L633.9 149.6L636.1 152.3L638.2 151.6L640.3 151.1L642.5 150.6L644.6 151.6L646.7 152.8L648.8 150.7L651.0 150.9L653.1 153.1L655.2 152.0L657.4 151.3L659.5 151.6L661.6 150.9L663.8 150.6"/>
</g>
<rect x="398.80" y="0.40" width="266.30" height="189.85" fill="none" stroke="#3a3a3a" stroke-width="1.15"/>
<path d="M452.06 190.25v-3.7M452.06 0.40v3.7M505.32 190.25v-3.7M505.32 0.40v3.7M558.58 190.25v-3.7M558.58 0.40v3.7M611.84 190.25v-3.7M611.84 0.40v3.7M398.80 152.28h5.2M665.10 152.28h-5.2M398.80 114.31h5.2M665.10 114.31h-5.2M398.80 76.34h5.2M665.10 76.34h-5.2M398.80 38.37h5.2M665.10 38.37h-5.2" stroke="#3a3a3a" stroke-width="1.1" fill="none"/>
<text transform="translate(375.15 190.95) scale(1.080 1)" text-anchor="middle" style="font-size:16.40px">0</text>
<text x="382.10" y="190.95" text-anchor="middle" style="font-size:16.40px">.</text>
<text transform="translate(389.06 190.95) scale(1.080 1)" text-anchor="middle" style="font-size:16.40px">4</text>
<text transform="translate(375.15 158.28) scale(1.080 1)" text-anchor="middle" style="font-size:16.40px">0</text>
<text x="382.10" y="158.28" text-anchor="middle" style="font-size:16.40px">.</text>
<text transform="translate(388.92 158.28) scale(1.080 1)" text-anchor="middle" style="font-size:16.40px">5</text>
<text transform="translate(375.15 120.31) scale(1.080 1)" text-anchor="middle" style="font-size:16.40px">0</text>
<text x="382.10" y="120.31" text-anchor="middle" style="font-size:16.40px">.</text>
<text transform="translate(388.96 120.31) scale(1.080 1)" text-anchor="middle" style="font-size:16.40px">6</text>
<text transform="translate(375.15 82.34) scale(1.080 1)" text-anchor="middle" style="font-size:16.40px">0</text>
<text x="382.10" y="82.34" text-anchor="middle" style="font-size:16.40px">.</text>
<text transform="translate(388.80 82.34) scale(1.080 1)" text-anchor="middle" style="font-size:16.40px">7</text>
<text transform="translate(375.15 44.37) scale(1.080 1)" text-anchor="middle" style="font-size:16.40px">0</text>
<text x="382.10" y="44.37" text-anchor="middle" style="font-size:16.40px">.</text>
<text transform="translate(389.10 44.37) scale(1.080 1)" text-anchor="middle" style="font-size:16.40px">8</text>
<text transform="translate(375.15 11.10) scale(1.080 1)" text-anchor="middle" style="font-size:16.40px">0</text>
<text x="382.10" y="11.10" text-anchor="middle" style="font-size:16.40px">.</text>
<text transform="translate(389.19 11.10) scale(1.080 1)" text-anchor="middle" style="font-size:16.40px">9</text>
<path d="M382.30 207.25H390.90" stroke="#2a2a2a" stroke-width="1.10"/>
<text transform="translate(397.23 211.75) scale(1.080 1)" text-anchor="middle" style="font-size:16.40px">1</text>
<text x="404.35" y="211.75" text-anchor="middle" style="font-size:16.40px">.</text>
<text transform="translate(411.30 211.75) scale(1.080 1)" text-anchor="middle" style="font-size:16.40px">0</text>
<path d="M435.56 207.25H444.16" stroke="#2a2a2a" stroke-width="1.10"/>
<text transform="translate(450.76 211.75) scale(1.080 1)" text-anchor="middle" style="font-size:16.40px">0</text>
<text x="457.61" y="211.75" text-anchor="middle" style="font-size:16.40px">.</text>
<text transform="translate(464.42 211.75) scale(1.080 1)" text-anchor="middle" style="font-size:16.40px">6</text>
<path d="M488.82 207.25H497.42" stroke="#2a2a2a" stroke-width="1.10"/>
<text transform="translate(504.02 211.75) scale(1.080 1)" text-anchor="middle" style="font-size:16.40px">0</text>
<text x="510.87" y="211.75" text-anchor="middle" style="font-size:16.40px">.</text>
<text transform="translate(517.91 211.75) scale(1.080 1)" text-anchor="middle" style="font-size:16.40px">2</text>
<text transform="translate(551.58 211.75) scale(1.080 1)" text-anchor="middle" style="font-size:16.40px">0</text>
<text x="558.58" y="211.75" text-anchor="middle" style="font-size:16.40px">.</text>
<text transform="translate(565.67 211.75) scale(1.080 1)" text-anchor="middle" style="font-size:16.40px">2</text>
<text transform="translate(604.84 211.75) scale(1.080 1)" text-anchor="middle" style="font-size:16.40px">0</text>
<text x="611.84" y="211.75" text-anchor="middle" style="font-size:16.40px">.</text>
<text transform="translate(618.70 211.75) scale(1.080 1)" text-anchor="middle" style="font-size:16.40px">6</text>
<text transform="translate(657.83 211.75) scale(1.080 1)" text-anchor="middle" style="font-size:16.40px">1</text>
<text x="665.10" y="211.75" text-anchor="middle" style="font-size:16.40px">.</text>
<text transform="translate(672.10 211.75) scale(1.080 1)" text-anchor="middle" style="font-size:16.40px">0</text>
<path d="M585.00 33.60H603.70" stroke="rgb(198,254,150)" stroke-width="1.4"/>
<path d="M613.45 26.70 C612.85 29.60 611.65 31.60 611.85 33.00 C612.05 33.90 613.15 33.70 613.85 32.60" stroke="#141414" stroke-width="1.45" fill="none" stroke-linecap="round"/>
<path d="M615.50 28.60H621.80" stroke="#2a2a2a" stroke-width="1.05"/>
<path d="M615.50 31.40H621.80" stroke="#2a2a2a" stroke-width="1.05"/>
<text x="626.03" y="33.50" text-anchor="middle" style="font-size:11.20px;font-weight:bold">1</text>
<path d="M585.00 47.84H603.70" stroke="rgb(255,205,160)" stroke-width="1.4"/>
<path d="M613.45 40.94 C612.85 43.84 611.65 45.84 611.85 47.24 C612.05 48.14 613.15 47.94 613.85 46.84" stroke="#141414" stroke-width="1.45" fill="none" stroke-linecap="round"/>
<path d="M615.50 42.84H621.80" stroke="#2a2a2a" stroke-width="1.05"/>
<path d="M615.50 45.64H621.80" stroke="#2a2a2a" stroke-width="1.05"/>
<text x="626.22" y="47.74" text-anchor="middle" style="font-size:11.20px;font-weight:bold">2</text>
<path d="M585.00 62.08H603.70" stroke="rgb(160,178,255)" stroke-width="1.4"/>
<path d="M613.45 55.18 C612.85 58.08 611.65 60.08 611.85 61.48 C612.05 62.38 613.15 62.18 613.85 61.08" stroke="#141414" stroke-width="1.45" fill="none" stroke-linecap="round"/>
<path d="M615.50 57.08H621.80" stroke="#2a2a2a" stroke-width="1.05"/>
<path d="M615.50 59.88H621.80" stroke="#2a2a2a" stroke-width="1.05"/>
<text x="626.22" y="61.98" text-anchor="middle" style="font-size:11.20px;font-weight:bold">4</text>
<path d="M585.00 76.32H603.70" stroke="rgb(255,150,150)" stroke-width="1.4"/>
<path d="M613.45 69.42 C612.85 72.32 611.65 74.32 611.85 75.72 C612.05 76.62 613.15 76.42 613.85 75.32" stroke="#141414" stroke-width="1.45" fill="none" stroke-linecap="round"/>
<path d="M615.50 71.32H621.80" stroke="#2a2a2a" stroke-width="1.05"/>
<path d="M615.50 74.12H621.80" stroke="#2a2a2a" stroke-width="1.05"/>
<text x="626.20" y="76.22" text-anchor="middle" style="font-size:11.20px;font-weight:bold">8</text>
<path d="M585.00 90.56H603.70" stroke="rgb(185,150,232)" stroke-width="1.4"/>
<path d="M613.45 83.66 C612.85 86.56 611.65 88.56 611.85 89.96 C612.05 90.86 613.15 90.66 613.85 89.56" stroke="#141414" stroke-width="1.45" fill="none" stroke-linecap="round"/>
<path d="M615.50 85.56H621.80" stroke="#2a2a2a" stroke-width="1.05"/>
<path d="M615.50 88.36H621.80" stroke="#2a2a2a" stroke-width="1.05"/>
<text x="626.03" y="90.46" text-anchor="middle" style="font-size:11.20px;font-weight:bold">1</text>
<text x="632.93" y="90.46" text-anchor="middle" style="font-size:11.20px;font-weight:bold">6</text>
<text x="408.49" y="23.40" text-anchor="middle" style="font-size:19.60px">(</text>
<text x="418.29" y="23.90" text-anchor="middle" style="font-size:19.60px">b</text>
<text x="427.08" y="23.40" text-anchor="middle" style="font-size:19.60px">)</text>
<text x="415.05" y="47.90" text-anchor="middle" style="font-size:19.00px">(</text>
<text x="480.40" y="47.90" text-anchor="middle" style="font-size:19.00px">(</text>
<text x="459.57" y="47.90" text-anchor="middle" style="font-size:19.00px">)</text>
<text x="534.77" y="47.90" text-anchor="middle" style="font-size:19.00px">)</text>
<text transform="translate(423.79 47.80) scale(1.250 1)" text-anchor="middle" style="font-size:16.80px;font-style:italic;stroke:#141414;stroke-width:0.22px">s</text>
<text transform="translate(452.24 47.80) scale(1.250 1)" text-anchor="middle" style="font-size:16.80px;font-style:italic;stroke:#141414;stroke-width:0.22px">s</text>
<text transform="translate(430.89 55.90) scale(0.760 1)" text-anchor="middle" style="font-size:10.80px;stroke:#141414;stroke-width:0.25px">A</text>
<text x="436.57" y="48.50" text-anchor="middle" style="font-size:17.20px">,</text>
<text x="510.42" y="48.50" text-anchor="middle" style="font-size:17.20px">,</text>
<path d="M465.15 41.57H475.05" stroke="#2a2a2a" stroke-width="1.10"/>
<path d="M465.15 44.65H475.05" stroke="#2a2a2a" stroke-width="1.10"/>
<path d="M486.05 43.37H495.15" stroke="#2a2a2a" stroke-width="1.10"/>
<text transform="translate(502.12 48.50) scale(1.100 1)" text-anchor="middle" style="font-size:17.20px">1</text>
<text transform="translate(525.70 48.50) scale(1.150 1)" text-anchor="middle" style="font-size:17.20px">1</text>
<text transform="translate(417.31 75.70) scale(1.050 1)" text-anchor="middle" style="font-size:17.50px;font-style:italic;stroke:#141414;stroke-width:0.35px">q</text>
<path d="M424.16 70.35H434.00" stroke="#2a2a2a" stroke-width="1.10"/>
<path d="M424.16 73.43H434.00" stroke="#2a2a2a" stroke-width="1.10"/>
<text x="440.49" y="76.30" text-anchor="middle" style="font-size:17.40px">1</text>
<text x="448.50" y="76.30" text-anchor="middle" style="font-size:17.40px">.</text>
<text transform="translate(456.25 76.30) scale(1.120 1)" text-anchor="middle" style="font-size:17.40px">0</text>
<text transform="translate(466.70 76.30) scale(1.120 1)" text-anchor="middle" style="font-size:17.40px">2</text>
<g transform="translate(352.65 96.10) rotate(-90)"><path d="M-19.70 0.0 C-19.10 -1.3 -18.00 -2.0 -17.30 -1.3 C-16.60 -0.5 -17.60 2.1 -17.00 3.7 C-16.60 4.8 -15.70 5.2 -14.80 4.7 C-13.20 3.9 -12.10 1.5 -12.00 -1.6" stroke-width="1.35" fill="none" stroke="#141414" stroke-linecap="round"/><path d="M-14.80 -3.3 Q-12.50 -5.9 -10.30 -3.3" stroke-width="1.05" fill="none" stroke="#141414"/><path d="M-6.5 2.9 L-8.3 4.4 C-8.1 5.6 -7.8 6.7 -7.4 7.4" stroke="#141414" stroke-width="1.35" stroke-linecap="round" fill="none"/><circle cx="0" cy="0" r="4.6" fill="none" stroke="#141414" stroke-width="1.05"/><circle cx="0" cy="0.1" r="1.05" fill="#141414"/><path d="M10.10 0.0 C10.70 -1.3 11.80 -2.0 12.50 -1.3 C13.20 -0.5 12.20 2.1 12.80 3.7 C13.20 4.8 14.10 5.2 15.00 4.7 C16.60 3.9 17.70 1.5 17.80 -1.6" stroke-width="1.35" fill="none" stroke="#141414" stroke-linecap="round"/><path d="M15.00 -3.3 Q17.30 -5.9 19.50 -3.3" stroke-width="1.05" fill="none" stroke="#141414"/><path d="M22.8 2.9 C21.7 3.6 21.1 5.0 21.6 6.3 C21.9 7.1 22.3 7.6 22.7 7.6 M24.3 5.45 H28.0 M26.15 3.5 V7.3 M30.4 2.8 C29.5 4.0 29.2 5.8 29.5 6.7 C29.7 7.4 30.1 7.7 30.5 7.5" stroke="#141414" stroke-width="1.3" stroke-linecap="round" fill="none"/><path d="M-28.7 -5.1 C-29.3 -5.8 -30.4 -5.1 -30.9 -3.8 L-34.3 6.6 C-34.8 8.0 -35.8 8.6 -36.6 7.8" stroke="#141414" stroke-width="1.6" fill="none" stroke-linecap="round"/><path d="M-33.5 -1.45 H-29.8" stroke="#141414" stroke-width="1.1" fill="none"/><path d="M-27.2 2.9 L-27.0 7.2" stroke="#141414" stroke-width="1.3" stroke-linecap="round"/><text x="-22.94" y="5.30" text-anchor="middle" style="font-size:17.00px">(</text><text x="33.91" y="5.30" text-anchor="middle" style="font-size:17.00px">)</text></g>
<g transform="translate(526.20 223.90)"><path d="M-19.70 0.0 C-19.10 -1.3 -18.00 -2.0 -17.30 -1.3 C-16.60 -0.5 -17.60 2.1 -17.00 3.7 C-16.60 4.8 -15.70 5.2 -14.80 4.7 C-13.20 3.9 -12.10 1.5 -12.00 -1.6" stroke-width="1.35" fill="none" stroke="#141414" stroke-linecap="round"/><path d="M-14.80 -3.3 Q-12.50 -5.9 -10.30 -3.3" stroke-width="1.05" fill="none" stroke="#141414"/><path d="M-6.5 2.9 L-8.3 4.4 C-8.1 5.6 -7.8 6.7 -7.4 7.4" stroke="#141414" stroke-width="1.35" stroke-linecap="round" fill="none"/><circle cx="0" cy="0" r="4.6" fill="none" stroke="#141414" stroke-width="1.05"/><circle cx="0" cy="0.1" r="1.05" fill="#141414"/><path d="M10.10 0.0 C10.70 -1.3 11.80 -2.0 12.50 -1.3 C13.20 -0.5 12.20 2.1 12.80 3.7 C13.20 4.8 14.10 5.2 15.00 4.7 C16.60 3.9 17.70 1.5 17.80 -1.6" stroke-width="1.35" fill="none" stroke="#141414" stroke-linecap="round"/><path d="M15.00 -3.3 Q17.30 -5.9 19.50 -3.3" stroke-width="1.05" fill="none" stroke="#141414"/><path d="M22.8 2.9 C21.7 3.6 21.1 5.0 21.6 6.3 C21.9 7.1 22.3 7.6 22.7 7.6 M24.3 5.45 H28.0 M26.15 3.5 V7.3 M30.4 2.8 C29.5 4.0 29.2 5.8 29.5 6.7 C29.7 7.4 30.1 7.7 30.5 7.5" stroke="#141414" stroke-width="1.3" stroke-linecap="round" fill="none"/></g>
<clipPath id="cp01"><rect x="52.60" y="247.40" width="266.30" height="189.85"/></clipPath>
<line x1="52.60" y1="399.28" x2="318.90" y2="399.28" stroke="#222" stroke-width="1.1" stroke-dasharray="3.4 7.05"/>
<g clip-path="url(#cp01)" fill="none" stroke-width="1" stroke-linejoin="round">
<path stroke="rgb(140,248,60)" d="M53.3 406.7L55.4 407.6L57.5 409.2L59.7 407.1L61.8 406.3L63.9 405.8L66.1 408.1L68.2 408.1L70.3 406.3L72.4 406.3L74.6 407.5L76.7 407.0L78.8 408.6L81.0 407.0L83.1 408.5L85.2 407.6L87.4 407.4L89.5 407.7L91.6 409.4L93.8 407.8L95.9 406.4L98.0 406.7L100.2 406.9L102.3 405.9L104.4 405.4L106.6 405.1L108.7 406.9L110.8 405.8L112.9 406.0L115.1 406.5L117.2 407.0L119.3 405.2L121.5 405.9L123.6 402.3L125.7 404.7L127.9 404.7L130.0 404.8L132.1 402.0L134.3 405.1L136.4 404.0L138.5 404.6L140.7 403.7L142.8 403.5L144.9 402.0L147.1 404.8L149.2 403.0L151.3 401.1L153.4 403.4L155.6 402.9L157.7 403.6L159.8 405.4L162.0 402.4L164.1 400.9L166.2 402.6L168.4 404.1L170.5 401.6L172.6 401.6L174.8 400.5L176.9 400.4L179.0 401.6L181.2 400.7L183.3 403.1L185.4 399.6L187.5 400.5L189.7 399.2L191.8 399.0L193.9 400.3L196.1 399.9L198.2 400.5L200.3 401.5L202.5 399.1L204.6 398.4L206.7 399.5L208.9 397.2L211.0 397.6L213.1 396.9L215.3 398.0L217.4 398.8L219.5 395.6L221.7 395.5L223.8 396.1L225.9 396.2L228.0 395.8L230.2 395.4L232.3 395.6L234.4 397.1L236.6 393.8L238.7 396.2L240.8 394.6L243.0 394.4L245.1 393.6L247.2 395.5L249.4 392.1L251.5 392.5L253.6 392.2L255.8 391.4L257.9 393.6L260.0 396.0L262.2 391.9L264.3 390.6L266.4 390.5L268.5 392.3L270.7 391.6L272.8 390.9L274.9 393.1L277.1 391.6L279.2 391.4L281.3 388.7L283.5 391.0L285.6 388.2L287.7 389.8L289.9 391.5L292.0 386.8L294.1 390.2L296.3 388.2L298.4 386.7L300.5 389.0L302.6 389.6L304.8 386.7L306.9 387.6L309.0 388.8L311.2 388.3L313.3 387.2L315.4 385.4L317.6 386.5"/>
<path stroke="rgb(255,170,80)" d="M53.3 404.2L55.4 403.0L57.5 403.4L59.7 403.1L61.8 403.3L63.9 406.4L66.1 403.2L68.2 404.1L70.3 404.6L72.4 405.6L74.6 406.1L76.7 405.5L78.8 404.2L81.0 405.5L83.1 405.0L85.2 404.7L87.4 403.2L89.5 404.2L91.6 404.0L93.8 402.3L95.9 404.1L98.0 403.0L100.2 404.9L102.3 403.3L104.4 403.5L106.6 403.4L108.7 404.1L110.8 404.7L112.9 403.9L115.1 404.0L117.2 402.3L119.3 402.4L121.5 404.8L123.6 402.6L125.7 403.8L127.9 402.7L130.0 403.7L132.1 404.8L134.3 401.8L136.4 402.1L138.5 403.7L140.7 404.2L142.8 402.5L144.9 403.1L147.1 402.0L149.2 400.8L151.3 399.7L153.4 401.7L155.6 399.6L157.7 399.8L159.8 401.5L162.0 402.9L164.1 399.9L166.2 400.1L168.4 398.1L170.5 399.0L172.6 399.7L174.8 398.6L176.9 401.6L179.0 400.1L181.2 400.6L183.3 398.2L185.4 399.4L187.5 403.4L189.7 398.2L191.8 400.7L193.9 398.7L196.1 399.9L198.2 399.0L200.3 398.4L202.5 398.7L204.6 399.9L206.7 397.0L208.9 398.0L211.0 398.3L213.1 397.3L215.3 398.6L217.4 395.6L219.5 397.4L221.7 397.0L223.8 396.9L225.9 398.2L228.0 398.3L230.2 396.6L232.3 396.2L234.4 394.9L236.6 395.8L238.7 397.4L240.8 395.4L243.0 394.9L245.1 394.5L247.2 395.1L249.4 396.8L251.5 393.9L253.6 396.0L255.8 394.4L257.9 396.7L260.0 393.9L262.2 395.6L264.3 393.3L266.4 392.4L268.5 393.0L270.7 395.5L272.8 395.1L274.9 394.8L277.1 392.9L279.2 393.1L281.3 393.1L283.5 392.8L285.6 392.3L287.7 392.1L289.9 390.8L292.0 392.6L294.1 392.2L296.3 394.5L298.4 393.8L300.5 393.0L302.6 393.4L304.8 391.7L306.9 390.6L309.0 392.1L311.2 391.9L313.3 391.6L315.4 390.6L317.6 391.0"/>
<path stroke="rgb(85,115,255)" d="M53.3 400.7L55.4 400.8L57.5 400.8L59.7 400.3L61.8 401.1L63.9 401.0L66.1 399.1L68.2 401.2L70.3 400.2L72.4 401.0L74.6 401.6L76.7 401.6L78.8 402.0L81.0 401.0L83.1 401.7L85.2 401.5L87.4 399.6L89.5 401.1L91.6 399.7L93.8 400.6L95.9 399.9L98.0 401.6L100.2 400.7L102.3 397.9L104.4 399.9L106.6 399.7L108.7 400.5L110.8 399.8L112.9 402.1L115.1 401.7L117.2 400.2L119.3 399.7L121.5 401.1L123.6 400.9L125.7 401.0L127.9 400.8L130.0 401.9L132.1 402.2L134.3 400.6L136.4 402.5L138.5 401.6L140.7 401.2L142.8 401.6L144.9 400.1L147.1 400.9L149.2 400.4L151.3 401.5L153.4 401.1L155.6 399.7L157.7 399.8L159.8 400.7L162.0 399.8L164.1 399.9L166.2 399.9L168.4 398.2L170.5 400.5L172.6 399.5L174.8 399.5L176.9 400.2L179.0 401.2L181.2 399.0L183.3 399.5L185.4 399.6L187.5 399.6L189.7 399.6L191.8 400.5L193.9 399.1L196.1 401.4L198.2 399.3L200.3 400.9L202.5 399.5L204.6 398.1L206.7 399.1L208.9 399.3L211.0 398.1L213.1 398.8L215.3 398.9L217.4 398.8L219.5 396.5L221.7 397.3L223.8 397.5L225.9 399.3L228.0 397.1L230.2 399.2L232.3 397.1L234.4 398.8L236.6 395.2L238.7 399.3L240.8 395.9L243.0 396.3L245.1 399.1L247.2 397.3L249.4 395.3L251.5 395.5L253.6 398.6L255.8 397.3L257.9 397.9L260.0 397.7L262.2 397.2L264.3 394.3L266.4 396.2L268.5 396.6L270.7 396.6L272.8 395.5L274.9 395.4L277.1 397.2L279.2 394.4L281.3 397.3L283.5 396.3L285.6 395.4L287.7 394.0L289.9 396.3L292.0 395.5L294.1 394.3L296.3 395.1L298.4 394.5L300.5 394.5L302.6 395.4L304.8 394.9L306.9 394.6L309.0 395.6L311.2 393.8L313.3 397.8L315.4 396.6L317.6 393.9"/>
<path stroke="rgb(255,70,70)" d="M53.3 400.8L55.4 402.0L57.5 400.8L59.7 400.0L61.8 401.9L63.9 400.4L66.1 401.4L68.2 401.4L70.3 401.3L72.4 399.9L74.6 402.5L76.7 401.6L78.8 400.4L81.0 402.6L83.1 403.0L85.2 400.5L87.4 401.1L89.5 401.3L91.6 400.9L93.8 402.2L95.9 397.7L98.0 402.2L100.2 401.5L102.3 402.6L104.4 401.4L106.6 399.2L108.7 400.9L110.8 400.2L112.9 401.4L115.1 398.8L117.2 400.6L119.3 402.2L121.5 399.9L123.6 401.2L125.7 400.0L127.9 400.5L130.0 400.4L132.1 400.5L134.3 401.6L136.4 402.3L138.5 399.4L140.7 400.7L142.8 400.2L144.9 401.0L147.1 402.7L149.2 401.8L151.3 398.8L153.4 401.2L155.6 400.7L157.7 401.9L159.8 400.8L162.0 400.6L164.1 400.4L166.2 400.2L168.4 400.8L170.5 400.7L172.6 400.0L174.8 399.6L176.9 400.1L179.0 397.9L181.2 399.6L183.3 399.6L185.4 400.5L187.5 398.5L189.7 400.8L191.8 401.4L193.9 400.6L196.1 398.8L198.2 400.7L200.3 397.8L202.5 399.2L204.6 400.9L206.7 399.3L208.9 396.9L211.0 399.8L213.1 400.3L215.3 398.1L217.4 397.1L219.5 397.4L221.7 398.8L223.8 398.1L225.9 397.9L228.0 396.9L230.2 395.7L232.3 398.2L234.4 396.5L236.6 398.4L238.7 397.2L240.8 398.9L243.0 398.6L245.1 397.2L247.2 398.7L249.4 396.6L251.5 398.2L253.6 397.4L255.8 397.5L257.9 397.7L260.0 397.1L262.2 396.0L264.3 393.6L266.4 398.5L268.5 396.7L270.7 397.2L272.8 398.0L274.9 396.6L277.1 397.8L279.2 396.9L281.3 395.3L283.5 399.0L285.6 396.4L287.7 396.1L289.9 397.6L292.0 395.9L294.1 396.0L296.3 396.8L298.4 395.0L300.5 397.8L302.6 395.5L304.8 396.5L306.9 397.4L309.0 396.3L311.2 396.5L313.3 395.1L315.4 397.7L317.6 396.2"/>
<path stroke="rgb(135,75,212)" d="M53.3 400.6L55.4 398.3L57.5 401.4L59.7 398.9L61.8 402.1L63.9 399.7L66.1 400.3L68.2 399.7L70.3 400.9L72.4 402.3L74.6 401.9L76.7 398.6L78.8 399.9L81.0 401.1L83.1 399.1L85.2 400.9L87.4 400.9L89.5 401.5L91.6 398.7L93.8 397.8L95.9 401.1L98.0 399.7L100.2 398.9L102.3 397.6L104.4 402.7L106.6 399.8L108.7 399.3L110.8 401.7L112.9 399.5L115.1 399.7L117.2 399.1L119.3 400.6L121.5 399.5L123.6 400.6L125.7 399.2L127.9 399.7L130.0 400.3L132.1 401.5L134.3 398.0L136.4 398.6L138.5 398.8L140.7 400.6L142.8 400.2L144.9 397.9L147.1 398.9L149.2 400.7L151.3 399.7L153.4 399.5L155.6 399.9L157.7 400.7L159.8 398.2L162.0 398.9L164.1 399.8L166.2 401.4L168.4 400.2L170.5 399.5L172.6 398.5L174.8 399.9L176.9 398.2L179.0 399.3L181.2 400.3L183.3 402.6L185.4 400.7L187.5 401.1L189.7 399.5L191.8 398.9L193.9 397.6L196.1 399.2L198.2 400.4L200.3 396.4L202.5 398.6L204.6 399.2L206.7 399.2L208.9 400.3L211.0 398.0L213.1 398.2L215.3 396.8L217.4 397.3L219.5 397.5L221.7 396.9L223.8 398.6L225.9 398.8L228.0 398.3L230.2 399.6L232.3 398.3L234.4 398.5L236.6 397.3L238.7 398.0L240.8 400.1L243.0 397.9L245.1 396.2L247.2 399.9L249.4 398.6L251.5 397.7L253.6 399.2L255.8 398.3L257.9 397.5L260.0 399.1L262.2 397.2L264.3 397.0L266.4 398.9L268.5 397.4L270.7 396.1L272.8 397.5L274.9 396.8L277.1 396.5L279.2 397.5L281.3 396.0L283.5 396.7L285.6 398.2L287.7 396.5L289.9 396.0L292.0 396.1L294.1 397.7L296.3 396.4L298.4 395.3L300.5 396.6L302.6 395.5L304.8 395.3L306.9 396.8L309.0 396.0L311.2 397.1L313.3 395.5L315.4 396.8L317.6 397.3"/>
</g>
<rect x="52.60" y="247.40" width="266.30" height="189.85" fill="none" stroke="#3a3a3a" stroke-width="1.15"/>
<path d="M105.86 437.25v-3.7M105.86 247.40v3.7M159.12 437.25v-3.7M159.12 247.40v3.7M212.38 437.25v-3.7M212.38 247.40v3.7M265.64 437.25v-3.7M265.64 247.40v3.7M52.60 399.28h5.2M318.90 399.28h-5.2M52.60 361.31h5.2M318.90 361.31h-5.2M52.60 323.34h5.2M318.90 323.34h-5.2M52.60 285.37h5.2M318.90 285.37h-5.2" stroke="#3a3a3a" stroke-width="1.1" fill="none"/>
<text transform="translate(28.95 437.95) scale(1.080 1)" text-anchor="middle" style="font-size:16.40px">0</text>
<text x="35.90" y="437.95" text-anchor="middle" style="font-size:16.40px">.</text>
<text transform="translate(42.86 437.95) scale(1.080 1)" text-anchor="middle" style="font-size:16.40px">4</text>
<text transform="translate(28.95 405.28) scale(1.080 1)" text-anchor="middle" style="font-size:16.40px">0</text>
<text x="35.90" y="405.28" text-anchor="middle" style="font-size:16.40px">.</text>
<text transform="translate(42.72 405.28) scale(1.080 1)" text-anchor="middle" style="font-size:16.40px">5</text>
<text transform="translate(28.95 367.31) scale(1.080 1)" text-anchor="middle" style="font-size:16.40px">0</text>
<text x="35.90" y="367.31" text-anchor="middle" style="font-size:16.40px">.</text>
<text transform="translate(42.76 367.31) scale(1.080 1)" text-anchor="middle" style="font-size:16.40px">6</text>
<text transform="translate(28.95 329.34) scale(1.080 1)" text-anchor="middle" style="font-size:16.40px">0</text>
<text x="35.90" y="329.34" text-anchor="middle" style="font-size:16.40px">.</text>
<text transform="translate(42.60 329.34) scale(1.080 1)" text-anchor="middle" style="font-size:16.40px">7</text>
<text transform="translate(28.95 291.37) scale(1.080 1)" text-anchor="middle" style="font-size:16.40px">0</text>
<text x="35.90" y="291.37" text-anchor="middle" style="font-size:16.40px">.</text>
<text transform="translate(42.90 291.37) scale(1.080 1)" text-anchor="middle" style="font-size:16.40px">8</text>
<text transform="translate(28.95 258.10) scale(1.080 1)" text-anchor="middle" style="font-size:16.40px">0</text>
<text x="35.90" y="258.10" text-anchor="middle" style="font-size:16.40px">.</text>
<text transform="translate(42.99 258.10) scale(1.080 1)" text-anchor="middle" style="font-size:16.40px">9</text>
<path d="M36.10 454.25H44.70" stroke="#2a2a2a" stroke-width="1.10"/>
<text transform="translate(51.03 458.75) scale(1.080 1)" text-anchor="middle" style="font-size:16.40px">1</text>
<text x="58.15" y="458.75" text-anchor="middle" style="font-size:16.40px">.</text>
<text transform="translate(65.10 458.75) scale(1.080 1)" text-anchor="middle" style="font-size:16.40px">0</text>
<path d="M89.36 454.25H97.96" stroke="#2a2a2a" stroke-width="1.10"/>
<text transform="translate(104.56 458.75) scale(1.080 1)" text-anchor="middle" style="font-size:16.40px">0</text>
<text x="111.41" y="458.75" text-anchor="middle" style="font-size:16.40px">.</text>
<text transform="translate(118.22 458.75) scale(1.080 1)" text-anchor="middle" style="font-size:16.40px">6</text>
<path d="M142.62 454.25H151.22" stroke="#2a2a2a" stroke-width="1.10"/>
<text transform="translate(157.82 458.75) scale(1.080 1)" text-anchor="middle" style="font-size:16.40px">0</text>
<text x="164.67" y="458.75" text-anchor="middle" style="font-size:16.40px">.</text>
<text transform="translate(171.71 458.75) scale(1.080 1)" text-anchor="middle" style="font-size:16.40px">2</text>
<text transform="translate(205.38 458.75) scale(1.080 1)" text-anchor="middle" style="font-size:16.40px">0</text>
<text x="212.38" y="458.75" text-anchor="middle" style="font-size:16.40px">.</text>
<text transform="translate(219.47 458.75) scale(1.080 1)" text-anchor="middle" style="font-size:16.40px">2</text>
<text transform="translate(258.64 458.75) scale(1.080 1)" text-anchor="middle" style="font-size:16.40px">0</text>
<text x="265.64" y="458.75" text-anchor="middle" style="font-size:16.40px">.</text>
<text transform="translate(272.50 458.75) scale(1.080 1)" text-anchor="middle" style="font-size:16.40px">6</text>
<text transform="translate(311.63 458.75) scale(1.080 1)" text-anchor="middle" style="font-size:16.40px">1</text>
<text x="318.90" y="458.75" text-anchor="middle" style="font-size:16.40px">.</text>
<text transform="translate(325.90 458.75) scale(1.080 1)" text-anchor="middle" style="font-size:16.40px">0</text>
<path d="M238.80 280.60H257.50" stroke="rgb(198,254,150)" stroke-width="1.4"/>
<path d="M267.25 273.70 C266.65 276.60 265.45 278.60 265.65 280.00 C265.85 280.90 266.95 280.70 267.65 279.60" stroke="#141414" stroke-width="1.45" fill="none" stroke-linecap="round"/>
<path d="M269.30 275.60H275.60" stroke="#2a2a2a" stroke-width="1.05"/>
<path d="M269.30 278.40H275.60" stroke="#2a2a2a" stroke-width="1.05"/>
<text x="279.83" y="280.50" text-anchor="middle" style="font-size:11.20px;font-weight:bold">1</text>
<path d="M238.80 294.84H257.50" stroke="rgb(255,205,160)" stroke-width="1.4"/>
<path d="M267.25 287.94 C266.65 290.84 265.45 292.84 265.65 294.24 C265.85 295.14 266.95 294.94 267.65 293.84" stroke="#141414" stroke-width="1.45" fill="none" stroke-linecap="round"/>
<path d="M269.30 289.84H275.60" stroke="#2a2a2a" stroke-width="1.05"/>
<path d="M269.30 292.64H275.60" stroke="#2a2a2a" stroke-width="1.05"/>
<text x="280.02" y="294.74" text-anchor="middle" style="font-size:11.20px;font-weight:bold">2</text>
<path d="M238.80 309.08H257.50" stroke="rgb(160,178,255)" stroke-width="1.4"/>
<path d="M267.25 302.18 C266.65 305.08 265.45 307.08 265.65 308.48 C265.85 309.38 266.95 309.18 267.65 308.08" stroke="#141414" stroke-width="1.45" fill="none" stroke-linecap="round"/>
<path d="M269.30 304.08H275.60" stroke="#2a2a2a" stroke-width="1.05"/>
<path d="M269.30 306.88H275.60" stroke="#2a2a2a" stroke-width="1.05"/>
<text x="280.02" y="308.98" text-anchor="middle" style="font-size:11.20px;font-weight:bold">4</text>
<path d="M238.80 323.32H257.50" stroke="rgb(255,150,150)" stroke-width="1.4"/>
<path d="M267.25 316.42 C266.65 319.32 265.45 321.32 265.65 322.72 C265.85 323.62 266.95 323.42 267.65 322.32" stroke="#141414" stroke-width="1.45" fill="none" stroke-linecap="round"/>
<path d="M269.30 318.32H275.60" stroke="#2a2a2a" stroke-width="1.05"/>
<path d="M269.30 321.12H275.60" stroke="#2a2a2a" stroke-width="1.05"/>
<text x="280.00" y="323.22" text-anchor="middle" style="font-size:11.20px;font-weight:bold">8</text>
<path d="M238.80 337.56H257.50" stroke="rgb(185,150,232)" stroke-width="1.4"/>
<path d="M267.25 330.66 C266.65 333.56 265.45 335.56 265.65 336.96 C265.85 337.86 266.95 337.66 267.65 336.56" stroke="#141414" stroke-width="1.45" fill="none" stroke-linecap="round"/>
<path d="M269.30 332.56H275.60" stroke="#2a2a2a" stroke-width="1.05"/>
<path d="M269.30 335.36H275.60" stroke="#2a2a2a" stroke-width="1.05"/>
<text x="279.83" y="337.46" text-anchor="middle" style="font-size:11.20px;font-weight:bold">1</text>
<text x="286.73" y="337.46" text-anchor="middle" style="font-size:11.20px;font-weight:bold">6</text>
<text x="62.29" y="270.40" text-anchor="middle" style="font-size:19.60px">(</text>
<text x="70.90" y="270.90" text-anchor="middle" style="font-size:19.60px">c</text>
<text x="79.93" y="270.40" text-anchor="middle" style="font-size:19.60px">)</text>
<text x="68.85" y="294.90" text-anchor="middle" style="font-size:19.00px">(</text>
<text x="134.20" y="294.90" text-anchor="middle" style="font-size:19.00px">(</text>
<text x="113.37" y="294.90" text-anchor="middle" style="font-size:19.00px">)</text>
<text x="188.57" y="294.90" text-anchor="middle" style="font-size:19.00px">)</text>
<text transform="translate(77.59 294.80) scale(1.250 1)" text-anchor="middle" style="font-size:16.80px;font-style:italic;stroke:#141414;stroke-width:0.22px">s</text>
<text transform="translate(106.04 294.80) scale(1.250 1)" text-anchor="middle" style="font-size:16.80px;font-style:italic;stroke:#141414;stroke-width:0.22px">s</text>
<text transform="translate(84.69 302.90) scale(0.760 1)" text-anchor="middle" style="font-size:10.80px;stroke:#141414;stroke-width:0.25px">A</text>
<text x="90.37" y="295.50" text-anchor="middle" style="font-size:17.20px">,</text>
<text x="164.22" y="295.50" text-anchor="middle" style="font-size:17.20px">,</text>
<path d="M118.95 288.57H128.85" stroke="#2a2a2a" stroke-width="1.10"/>
<path d="M118.95 291.65H128.85" stroke="#2a2a2a" stroke-width="1.10"/>
<path d="M139.85 290.37H148.95" stroke="#2a2a2a" stroke-width="1.10"/>
<text transform="translate(155.92 295.50) scale(1.100 1)" text-anchor="middle" style="font-size:17.20px">1</text>
<text transform="translate(179.90 295.50) scale(1.150 1)" text-anchor="middle" style="font-size:17.20px">2</text>
<text transform="translate(71.11 322.70) scale(1.050 1)" text-anchor="middle" style="font-size:17.50px;font-style:italic;stroke:#141414;stroke-width:0.35px">q</text>
<path d="M77.96 317.35H87.80" stroke="#2a2a2a" stroke-width="1.10"/>
<path d="M77.96 320.43H87.80" stroke="#2a2a2a" stroke-width="1.10"/>
<text x="94.29" y="323.30" text-anchor="middle" style="font-size:17.40px">1</text>
<text x="102.30" y="323.30" text-anchor="middle" style="font-size:17.40px">.</text>
<text transform="translate(110.05 323.30) scale(1.120 1)" text-anchor="middle" style="font-size:17.40px">0</text>
<text transform="translate(120.50 323.30) scale(1.120 1)" text-anchor="middle" style="font-size:17.40px">2</text>
<g transform="translate(6.45 343.10) rotate(-90)"><path d="M-19.70 0.0 C-19.10 -1.3 -18.00 -2.0 -17.30 -1.3 C-16.60 -0.5 -17.60 2.1 -17.00 3.7 C-16.60 4.8 -15.70 5.2 -14.80 4.7 C-13.20 3.9 -12.10 1.5 -12.00 -1.6" stroke-width="1.35" fill="none" stroke="#141414" stroke-linecap="round"/><path d="M-14.80 -3.3 Q-12.50 -5.9 -10.30 -3.3" stroke-width="1.05" fill="none" stroke="#141414"/><path d="M-6.5 2.9 L-8.3 4.4 C-8.1 5.6 -7.8 6.7 -7.4 7.4" stroke="#141414" stroke-width="1.35" stroke-linecap="round" fill="none"/><circle cx="0" cy="0" r="4.6" fill="none" stroke="#141414" stroke-width="1.05"/><circle cx="0" cy="0.1" r="1.05" fill="#141414"/><path d="M10.10 0.0 C10.70 -1.3 11.80 -2.0 12.50 -1.3 C13.20 -0.5 12.20 2.1 12.80 3.7 C13.20 4.8 14.10 5.2 15.00 4.7 C16.60 3.9 17.70 1.5 17.80 -1.6" stroke-width="1.35" fill="none" stroke="#141414" stroke-linecap="round"/><path d="M15.00 -3.3 Q17.30 -5.9 19.50 -3.3" stroke-width="1.05" fill="none" stroke="#141414"/><path d="M22.8 2.9 C21.7 3.6 21.1 5.0 21.6 6.3 C21.9 7.1 22.3 7.6 22.7 7.6 M24.3 5.45 H28.0 M26.15 3.5 V7.3 M30.4 2.8 C29.5 4.0 29.2 5.8 29.5 6.7 C29.7 7.4 30.1 7.7 30.5 7.5" stroke="#141414" stroke-width="1.3" stroke-linecap="round" fill="none"/><path d="M-28.7 -5.1 C-29.3 -5.8 -30.4 -5.1 -30.9 -3.8 L-34.3 6.6 C-34.8 8.0 -35.8 8.6 -36.6 7.8" stroke="#141414" stroke-width="1.6" fill="none" stroke-linecap="round"/><path d="M-33.5 -1.45 H-29.8" stroke="#141414" stroke-width="1.1" fill="none"/><path d="M-27.2 2.9 L-27.0 7.2" stroke="#141414" stroke-width="1.3" stroke-linecap="round"/><text x="-22.94" y="5.30" text-anchor="middle" style="font-size:17.00px">(</text><text x="33.91" y="5.30" text-anchor="middle" style="font-size:17.00px">)</text></g>
<g transform="translate(180.00 470.90)"><path d="M-19.70 0.0 C-19.10 -1.3 -18.00 -2.0 -17.30 -1.3 C-16.60 -0.5 -17.60 2.1 -17.00 3.7 C-16.60 4.8 -15.70 5.2 -14.80 4.7 C-13.20 3.9 -12.10 1.5 -12.00 -1.6" stroke-width="1.35" fill="none" stroke="#141414" stroke-linecap="round"/><path d="M-14.80 -3.3 Q-12.50 -5.9 -10.30 -3.3" stroke-width="1.05" fill="none" stroke="#141414"/><path d="M-6.5 2.9 L-8.3 4.4 C-8.1 5.6 -7.8 6.7 -7.4 7.4" stroke="#141414" stroke-width="1.35" stroke-linecap="round" fill="none"/><circle cx="0" cy="0" r="4.6" fill="none" stroke="#141414" stroke-width="1.05"/><circle cx="0" cy="0.1" r="1.05" fill="#141414"/><path d="M10.10 0.0 C10.70 -1.3 11.80 -2.0 12.50 -1.3 C13.20 -0.5 12.20 2.1 12.80 3.7 C13.20 4.8 14.10 5.2 15.00 4.7 C16.60 3.9 17.70 1.5 17.80 -1.6" stroke-width="1.35" fill="none" stroke="#141414" stroke-linecap="round"/><path d="M15.00 -3.3 Q17.30 -5.9 19.50 -3.3" stroke-width="1.05" fill="none" stroke="#141414"/><path d="M22.8 2.9 C21.7 3.6 21.1 5.0 21.6 6.3 C21.9 7.1 22.3 7.6 22.7 7.6 M24.3 5.45 H28.0 M26.15 3.5 V7.3 M30.4 2.8 C29.5 4.0 29.2 5.8 29.5 6.7 C29.7 7.4 30.1 7.7 30.5 7.5" stroke="#141414" stroke-width="1.3" stroke-linecap="round" fill="none"/></g>
<clipPath id="cp11"><rect x="398.80" y="247.40" width="266.30" height="189.85"/></clipPath>
<line x1="398.80" y1="399.28" x2="665.10" y2="399.28" stroke="#222" stroke-width="1.1" stroke-dasharray="3.4 7.05"/>
<g clip-path="url(#cp11)" fill="none" stroke-width="1" stroke-linejoin="round">
<path stroke="rgb(140,248,60)" d="M399.5 400.2L401.6 400.8L403.7 401.2L405.9 401.9L408.0 404.1L410.1 404.7L412.3 404.8L414.4 405.4L416.5 406.5L418.6 405.1L420.8 406.7L422.9 408.0L425.0 407.7L427.2 407.5L429.3 408.6L431.4 410.6L433.6 409.5L435.7 409.7L437.8 408.4L440.0 411.6L442.1 409.3L444.2 410.9L446.4 410.5L448.5 411.8L450.6 411.8L452.8 411.4L454.9 412.5L457.0 412.0L459.1 413.1L461.3 413.6L463.4 413.6L465.5 413.9L467.7 413.7L469.8 412.7L471.9 415.1L474.1 415.9L476.2 414.9L478.3 413.6L480.5 414.0L482.6 413.8L484.7 413.9L486.9 415.4L489.0 414.7L491.1 416.9L493.3 415.3L495.4 414.5L497.5 416.3L499.6 416.9L501.8 416.4L503.9 415.5L506.0 414.9L508.2 413.9L510.3 414.9L512.4 417.1L514.6 417.7L516.7 415.7L518.8 414.8L521.0 416.6L523.1 415.6L525.2 415.3L527.4 414.6L529.5 414.5L531.6 413.7L533.7 413.1L535.9 413.5L538.0 412.7L540.1 411.4L542.3 413.4L544.4 413.0L546.5 411.5L548.7 410.0L550.8 410.9L552.9 409.8L555.1 410.4L557.2 409.1L559.3 409.8L561.5 408.4L563.6 408.1L565.7 407.6L567.9 406.3L570.0 406.0L572.1 406.6L574.2 404.8L576.4 406.0L578.5 403.1L580.6 400.7L582.8 401.4L584.9 400.3L587.0 399.6L589.2 397.9L591.3 397.7L593.4 395.8L595.6 395.4L597.7 394.7L599.8 393.5L602.0 392.8L604.1 393.2L606.2 389.3L608.4 389.7L610.5 389.9L612.6 386.4L614.7 385.8L616.9 384.0L619.0 382.0L621.1 381.5L623.3 381.2L625.4 377.0L627.5 374.7L629.7 371.8L631.8 370.8L633.9 367.8L636.1 364.7L638.2 362.6L640.3 360.1L642.5 357.2L644.6 355.4L646.7 350.1L648.8 348.5L651.0 344.3L653.1 341.3L655.2 338.4L657.4 334.0L659.5 329.1L661.6 323.3L663.8 319.3"/>
<path stroke="rgb(255,170,80)" d="M399.5 386.7L401.6 387.2L403.7 390.4L405.9 390.4L408.0 391.1L410.1 391.9L412.3 394.0L414.4 395.0L416.5 393.2L418.6 395.5L420.8 397.3L422.9 398.1L425.0 398.2L427.2 398.3L429.3 400.0L431.4 399.8L433.6 401.3L435.7 401.9L437.8 402.2L440.0 403.8L442.1 403.9L444.2 404.8L446.4 405.4L448.5 405.0L450.6 407.0L452.8 407.2L454.9 408.6L457.0 408.4L459.1 409.1L461.3 408.1L463.4 409.2L465.5 409.6L467.7 408.7L469.8 412.6L471.9 411.8L474.1 413.5L476.2 411.8L478.3 411.5L480.5 411.4L482.6 411.8L484.7 412.7L486.9 410.7L489.0 411.9L491.1 412.4L493.3 413.1L495.4 412.1L497.5 412.9L499.6 413.1L501.8 412.7L503.9 412.9L506.0 413.8L508.2 412.3L510.3 414.1L512.4 414.2L514.6 413.1L516.7 413.2L518.8 413.2L521.0 413.5L523.1 413.1L525.2 413.6L527.4 414.3L529.5 412.5L531.6 413.7L533.7 413.0L535.9 412.2L538.0 412.6L540.1 410.3L542.3 413.2L544.4 412.4L546.5 411.5L548.7 410.2L550.8 411.2L552.9 411.8L555.1 409.5L557.2 410.7L559.3 409.8L561.5 408.6L563.6 409.3L565.7 408.7L567.9 407.5L570.0 407.6L572.1 406.7L574.2 407.1L576.4 405.9L578.5 405.9L580.6 405.6L582.8 402.3L584.9 402.5L587.0 401.4L589.2 402.0L591.3 400.5L593.4 399.8L595.6 400.0L597.7 397.8L599.8 398.0L602.0 396.8L604.1 396.8L606.2 393.8L608.4 392.7L610.5 391.8L612.6 391.7L614.7 390.2L616.9 387.6L619.0 387.1L621.1 384.8L623.3 383.1L625.4 382.2L627.5 378.3L629.7 379.2L631.8 376.2L633.9 375.4L636.1 375.4L638.2 372.6L640.3 370.8L642.5 369.3L644.6 368.0L646.7 365.1L648.8 362.5L651.0 360.9L653.1 357.4L655.2 355.5L657.4 352.9L659.5 349.5L661.6 348.0L663.8 344.7"/>
<path stroke="rgb(85,115,255)" d="M399.5 381.9L401.6 383.4L403.7 384.0L405.9 385.6L408.0 387.3L410.1 388.3L412.3 389.7L414.4 390.9L416.5 392.1L418.6 392.2L420.8 394.3L422.9 395.3L425.0 395.9L427.2 397.4L429.3 398.1L431.4 400.5L433.6 399.4L435.7 400.6L437.8 400.8L440.0 401.4L442.1 403.9L444.2 401.7L446.4 404.3L448.5 405.0L450.6 407.0L452.8 405.5L454.9 406.1L457.0 407.3L459.1 407.4L461.3 407.2L463.4 408.8L465.5 409.6L467.7 408.2L469.8 409.4L471.9 410.2L474.1 408.9L476.2 410.8L478.3 411.2L480.5 411.0L482.6 411.7L484.7 411.3L486.9 411.4L489.0 412.1L491.1 411.9L493.3 411.6L495.4 411.7L497.5 411.7L499.6 411.7L501.8 412.3L503.9 412.2L506.0 413.0L508.2 413.0L510.3 412.1L512.4 414.4L514.6 412.6L516.7 410.5L518.8 414.3L521.0 411.7L523.1 414.2L525.2 412.6L527.4 411.6L529.5 411.8L531.6 413.6L533.7 413.9L535.9 413.9L538.0 412.1L540.1 412.7L542.3 412.2L544.4 411.7L546.5 411.3L548.7 410.9L550.8 410.9L552.9 411.9L555.1 409.2L557.2 412.1L559.3 408.7L561.5 409.6L563.6 408.9L565.7 408.7L567.9 408.1L570.0 407.4L572.1 407.1L574.2 407.2L576.4 405.2L578.5 405.7L580.6 403.7L582.8 404.2L584.9 404.0L587.0 402.5L589.2 401.4L591.3 402.1L593.4 401.0L595.6 399.0L597.7 400.1L599.8 399.2L602.0 397.6L604.1 397.8L606.2 398.0L608.4 396.6L610.5 394.1L612.6 392.9L614.7 391.8L616.9 390.8L619.0 390.9L621.1 388.2L623.3 386.4L625.4 386.2L627.5 383.1L629.7 382.2L631.8 380.1L633.9 378.4L636.1 378.2L638.2 374.2L640.3 374.2L642.5 371.9L644.6 370.5L646.7 368.2L648.8 366.7L651.0 365.2L653.1 361.9L655.2 360.0L657.4 357.8L659.5 357.3L661.6 353.0L663.8 350.6"/>
<path stroke="rgb(255,70,70)" d="M399.5 378.7L401.6 380.4L403.7 381.4L405.9 382.7L408.0 383.5L410.1 385.3L412.3 387.7L414.4 387.6L416.5 389.3L418.6 388.2L420.8 389.3L422.9 390.9L425.0 391.5L427.2 392.6L429.3 393.8L431.4 393.3L433.6 393.1L435.7 396.3L437.8 397.9L440.0 399.9L442.1 401.0L444.2 399.5L446.4 401.9L448.5 401.8L450.6 402.8L452.8 402.8L454.9 403.8L457.0 403.7L459.1 405.4L461.3 404.9L463.4 404.2L465.5 406.4L467.7 406.6L469.8 405.6L471.9 407.2L474.1 407.7L476.2 410.8L478.3 409.4L480.5 410.8L482.6 411.2L484.7 410.1L486.9 409.7L489.0 412.0L491.1 411.9L493.3 411.8L495.4 411.7L497.5 412.8L499.6 410.4L501.8 411.9L503.9 412.8L506.0 413.1L508.2 411.1L510.3 411.2L512.4 413.3L514.6 412.7L516.7 412.0L518.8 413.8L521.0 413.4L523.1 411.9L525.2 413.5L527.4 413.3L529.5 414.0L531.6 413.5L533.7 412.4L535.9 413.4L538.0 413.7L540.1 412.9L542.3 410.8L544.4 411.8L546.5 412.0L548.7 411.2L550.8 410.6L552.9 410.6L555.1 411.7L557.2 409.8L559.3 409.8L561.5 408.7L563.6 410.0L565.7 407.7L567.9 408.5L570.0 409.0L572.1 406.2L574.2 407.2L576.4 406.0L578.5 405.9L580.6 404.4L582.8 403.9L584.9 403.3L587.0 403.0L589.2 404.2L591.3 403.7L593.4 401.7L595.6 402.0L597.7 400.4L599.8 400.1L602.0 400.7L604.1 399.7L606.2 398.9L608.4 397.9L610.5 396.5L612.6 395.0L614.7 393.7L616.9 394.6L619.0 393.5L621.1 391.1L623.3 390.8L625.4 390.2L627.5 390.8L629.7 388.4L631.8 385.9L633.9 384.7L636.1 380.9L638.2 380.6L640.3 378.9L642.5 378.3L644.6 376.6L646.7 374.6L648.8 372.9L651.0 370.7L653.1 368.3L655.2 366.3L657.4 363.5L659.5 363.1L661.6 359.5L663.8 357.0"/>
<path stroke="rgb(135,75,212)" d="M399.5 370.0L401.6 373.2L403.7 375.1L405.9 377.6L408.0 377.7L410.1 378.6L412.3 380.5L414.4 381.8L416.5 383.2L418.6 384.3L420.8 387.1L422.9 386.8L425.0 388.9L427.2 388.4L429.3 389.9L431.4 392.5L433.6 393.7L435.7 392.2L437.8 394.3L440.0 395.1L442.1 396.7L444.2 397.5L446.4 397.7L448.5 398.7L450.6 400.6L452.8 399.9L454.9 401.3L457.0 403.0L459.1 402.2L461.3 403.8L463.4 403.6L465.5 405.0L467.7 404.7L469.8 406.8L471.9 406.1L474.1 408.5L476.2 407.9L478.3 410.5L480.5 409.1L482.6 408.9L484.7 409.4L486.9 409.2L489.0 411.3L491.1 409.5L493.3 409.8L495.4 412.2L497.5 412.1L499.6 412.2L501.8 412.0L503.9 412.0L506.0 414.2L508.2 412.0L510.3 412.7L512.4 413.4L514.6 411.9L516.7 413.0L518.8 411.9L521.0 412.4L523.1 413.1L525.2 412.0L527.4 412.3L529.5 413.3L531.6 414.2L533.7 413.4L535.9 412.4L538.0 412.9L540.1 411.2L542.3 412.1L544.4 412.0L546.5 411.5L548.7 412.3L550.8 411.4L552.9 411.6L555.1 412.6L557.2 411.9L559.3 409.6L561.5 410.2L563.6 409.6L565.7 410.3L567.9 409.2L570.0 407.7L572.1 407.9L574.2 407.9L576.4 405.9L578.5 406.7L580.6 406.5L582.8 404.8L584.9 406.5L587.0 404.3L589.2 405.1L591.3 404.4L593.4 403.8L595.6 402.8L597.7 402.4L599.8 401.9L602.0 401.6L604.1 400.2L606.2 399.3L608.4 399.3L610.5 398.5L612.6 398.5L614.7 398.2L616.9 396.1L619.0 395.7L621.1 394.3L623.3 395.5L625.4 390.9L627.5 392.5L629.7 390.2L631.8 388.3L633.9 389.1L636.1 387.5L638.2 387.4L640.3 385.4L642.5 384.2L644.6 381.1L646.7 379.4L648.8 378.2L651.0 375.3L653.1 373.2L655.2 372.0L657.4 370.1L659.5 368.3L661.6 366.8L663.8 363.9"/>
</g>
<rect x="398.80" y="247.40" width="266.30" height="189.85" fill="none" stroke="#3a3a3a" stroke-width="1.15"/>
<path d="M452.06 437.25v-3.7M452.06 247.40v3.7M505.32 437.25v-3.7M505.32 247.40v3.7M558.58 437.25v-3.7M558.58 247.40v3.7M611.84 437.25v-3.7M611.84 247.40v3.7M398.80 399.28h5.2M665.10 399.28h-5.2M398.80 361.31h5.2M665.10 361.31h-5.2M398.80 323.34h5.2M665.10 323.34h-5.2M398.80 285.37h5.2M665.10 285.37h-5.2" stroke="#3a3a3a" stroke-width="1.1" fill="none"/>
<text transform="translate(375.15 437.95) scale(1.080 1)" text-anchor="middle" style="font-size:16.40px">0</text>
<text x="382.10" y="437.95" text-anchor="middle" style="font-size:16.40px">.</text>
<text transform="translate(389.06 437.95) scale(1.080 1)" text-anchor="middle" style="font-size:16.40px">4</text>
<text transform="translate(375.15 405.28) scale(1.080 1)" text-anchor="middle" style="font-size:16.40px">0</text>
<text x="382.10" y="405.28" text-anchor="middle" style="font-size:16.40px">.</text>
<text transform="translate(388.92 405.28) scale(1.080 1)" text-anchor="middle" style="font-size:16.40px">5</text>
<text transform="translate(375.15 367.31) scale(1.080 1)" text-anchor="middle" style="font-size:16.40px">0</text>
<text x="382.10" y="367.31" text-anchor="middle" style="font-size:16.40px">.</text>
<text transform="translate(388.96 367.31) scale(1.080 1)" text-anchor="middle" style="font-size:16.40px">6</text>
<text transform="translate(375.15 329.34) scale(1.080 1)" text-anchor="middle" style="font-size:16.40px">0</text>
<text x="382.10" y="329.34" text-anchor="middle" style="font-size:16.40px">.</text>
<text transform="translate(388.80 329.34) scale(1.080 1)" text-anchor="middle" style="font-size:16.40px">7</text>
<text transform="translate(375.15 291.37) scale(1.080 1)" text-anchor="middle" style="font-size:16.40px">0</text>
<text x="382.10" y="291.37" text-anchor="middle" style="font-size:16.40px">.</text>
<text transform="translate(389.10 291.37) scale(1.080 1)" text-anchor="middle" style="font-size:16.40px">8</text>
<text transform="translate(375.15 258.10) scale(1.080 1)" text-anchor="middle" style="font-size:16.40px">0</text>
<text x="382.10" y="258.10" text-anchor="middle" style="font-size:16.40px">.</text>
<text transform="translate(389.19 258.10) scale(1.080 1)" text-anchor="middle" style="font-size:16.40px">9</text>
<path d="M382.30 454.25H390.90" stroke="#2a2a2a" stroke-width="1.10"/>
<text transform="translate(397.23 458.75) scale(1.080 1)" text-anchor="middle" style="font-size:16.40px">1</text>
<text x="404.35" y="458.75" text-anchor="middle" style="font-size:16.40px">.</text>
<text transform="translate(411.30 458.75) scale(1.080 1)" text-anchor="middle" style="font-size:16.40px">0</text>
<path d="M435.56 454.25H444.16" stroke="#2a2a2a" stroke-width="1.10"/>
<text transform="translate(450.76 458.75) scale(1.080 1)" text-anchor="middle" style="font-size:16.40px">0</text>
<text x="457.61" y="458.75" text-anchor="middle" style="font-size:16.40px">.</text>
<text transform="translate(464.42 458.75) scale(1.080 1)" text-anchor="middle" style="font-size:16.40px">6</text>
<path d="M488.82 454.25H497.42" stroke="#2a2a2a" stroke-width="1.10"/>
<text transform="translate(504.02 458.75) scale(1.080 1)" text-anchor="middle" style="font-size:16.40px">0</text>
<text x="510.87" y="458.75" text-anchor="middle" style="font-size:16.40px">.</text>
<text transform="translate(517.91 458.75) scale(1.080 1)" text-anchor="middle" style="font-size:16.40px">2</text>
<text transform="translate(551.58 458.75) scale(1.080 1)" text-anchor="middle" style="font-size:16.40px">0</text>
<text x="558.58" y="458.75" text-anchor="middle" style="font-size:16.40px">.</text>
<text transform="translate(565.67 458.75) scale(1.080 1)" text-anchor="middle" style="font-size:16.40px">2</text>
<text transform="translate(604.84 458.75) scale(1.080 1)" text-anchor="middle" style="font-size:16.40px">0</text>
<text x="611.84" y="458.75" text-anchor="middle" style="font-size:16.40px">.</text>
<text transform="translate(618.70 458.75) scale(1.080 1)" text-anchor="middle" style="font-size:16.40px">6</text>
<text transform="translate(657.83 458.75) scale(1.080 1)" text-anchor="middle" style="font-size:16.40px">1</text>
<text x="665.10" y="458.75" text-anchor="middle" style="font-size:16.40px">.</text>
<text transform="translate(672.10 458.75) scale(1.080 1)" text-anchor="middle" style="font-size:16.40px">0</text>
<path d="M585.00 280.60H603.70" stroke="rgb(198,254,150)" stroke-width="1.4"/>
<path d="M613.45 273.70 C612.85 276.60 611.65 278.60 611.85 280.00 C612.05 280.90 613.15 280.70 613.85 279.60" stroke="#141414" stroke-width="1.45" fill="none" stroke-linecap="round"/>
<path d="M615.50 275.60H621.80" stroke="#2a2a2a" stroke-width="1.05"/>
<path d="M615.50 278.40H621.80" stroke="#2a2a2a" stroke-width="1.05"/>
<text x="626.03" y="280.50" text-anchor="middle" style="font-size:11.20px;font-weight:bold">1</text>
<path d="M585.00 294.84H603.70" stroke="rgb(255,205,160)" stroke-width="1.4"/>
<path d="M613.45 287.94 C612.85 290.84 611.65 292.84 611.85 294.24 C612.05 295.14 613.15 294.94 613.85 293.84" stroke="#141414" stroke-width="1.45" fill="none" stroke-linecap="round"/>
<path d="M615.50 289.84H621.80" stroke="#2a2a2a" stroke-width="1.05"/>
<path d="M615.50 292.64H621.80" stroke="#2a2a2a" stroke-width="1.05"/>
<text x="626.22" y="294.74" text-anchor="middle" style="font-size:11.20px;font-weight:bold">2</text>
<path d="M585.00 309.08H603.70" stroke="rgb(160,178,255)" stroke-width="1.4"/>
<path d="M613.45 302.18 C612.85 305.08 611.65 307.08 611.85 308.48 C612.05 309.38 613.15 309.18 613.85 308.08" stroke="#141414" stroke-width="1.45" fill="none" stroke-linecap="round"/>
<path d="M615.50 304.08H621.80" stroke="#2a2a2a" stroke-width="1.05"/>
<path d="M615.50 306.88H621.80" stroke="#2a2a2a" stroke-width="1.05"/>
<text x="626.22" y="308.98" text-anchor="middle" style="font-size:11.20px;font-weight:bold">4</text>
<path d="M585.00 323.32H603.70" stroke="rgb(255,150,150)" stroke-width="1.4"/>
<path d="M613.45 316.42 C612.85 319.32 611.65 321.32 611.85 322.72 C612.05 323.62 613.15 323.42 613.85 322.32" stroke="#141414" stroke-width="1.45" fill="none" stroke-linecap="round"/>
<path d="M615.50 318.32H621.80" stroke="#2a2a2a" stroke-width="1.05"/>
<path d="M615.50 321.12H621.80" stroke="#2a2a2a" stroke-width="1.05"/>
<text x="626.20" y="323.22" text-anchor="middle" style="font-size:11.20px;font-weight:bold">8</text>
<path d="M585.00 337.56H603.70" stroke="rgb(185,150,232)" stroke-width="1.4"/>
<path d="M613.45 330.66 C612.85 333.56 611.65 335.56 611.85 336.96 C612.05 337.86 613.15 337.66 613.85 336.56" stroke="#141414" stroke-width="1.45" fill="none" stroke-linecap="round"/>
<path d="M615.50 332.56H621.80" stroke="#2a2a2a" stroke-width="1.05"/>
<path d="M615.50 335.36H621.80" stroke="#2a2a2a" stroke-width="1.05"/>
<text x="626.03" y="337.46" text-anchor="middle" style="font-size:11.20px;font-weight:bold">1</text>
<text x="632.93" y="337.46" text-anchor="middle" style="font-size:11.20px;font-weight:bold">6</text>
<text x="408.49" y="270.40" text-anchor="middle" style="font-size:19.60px">(</text>
<text x="417.66" y="270.90" text-anchor="middle" style="font-size:19.60px">d</text>
<text x="427.08" y="270.40" text-anchor="middle" style="font-size:19.60px">)</text>
<text x="415.05" y="294.90" text-anchor="middle" style="font-size:19.00px">(</text>
<text x="480.40" y="294.90" text-anchor="middle" style="font-size:19.00px">(</text>
<text x="459.57" y="294.90" text-anchor="middle" style="font-size:19.00px">)</text>
<text x="534.77" y="294.90" text-anchor="middle" style="font-size:19.00px">)</text>
<text transform="translate(423.79 294.80) scale(1.250 1)" text-anchor="middle" style="font-size:16.80px;font-style:italic;stroke:#141414;stroke-width:0.22px">s</text>
<text transform="translate(452.24 294.80) scale(1.250 1)" text-anchor="middle" style="font-size:16.80px;font-style:italic;stroke:#141414;stroke-width:0.22px">s</text>
<text transform="translate(430.89 302.90) scale(0.760 1)" text-anchor="middle" style="font-size:10.80px;stroke:#141414;stroke-width:0.25px">A</text>
<text x="436.57" y="295.50" text-anchor="middle" style="font-size:17.20px">,</text>
<text x="510.42" y="295.50" text-anchor="middle" style="font-size:17.20px">,</text>
<path d="M465.15 288.57H475.05" stroke="#2a2a2a" stroke-width="1.10"/>
<path d="M465.15 291.65H475.05" stroke="#2a2a2a" stroke-width="1.10"/>
<path d="M486.05 290.37H495.15" stroke="#2a2a2a" stroke-width="1.10"/>
<text transform="translate(502.12 295.50) scale(1.100 1)" text-anchor="middle" style="font-size:17.20px">1</text>
<text transform="translate(525.90 295.50) scale(1.150 1)" text-anchor="middle" style="font-size:17.20px">3</text>
<text transform="translate(417.31 322.70) scale(1.050 1)" text-anchor="middle" style="font-size:17.50px;font-style:italic;stroke:#141414;stroke-width:0.35px">q</text>
<path d="M424.16 317.35H434.00" stroke="#2a2a2a" stroke-width="1.10"/>
<path d="M424.16 320.43H434.00" stroke="#2a2a2a" stroke-width="1.10"/>
<text x="440.49" y="323.30" text-anchor="middle" style="font-size:17.40px">1</text>
<text x="448.50" y="323.30" text-anchor="middle" style="font-size:17.40px">.</text>
<text transform="translate(456.25 323.30) scale(1.120 1)" text-anchor="middle" style="font-size:17.40px">0</text>
<text transform="translate(466.70 323.30) scale(1.120 1)" text-anchor="middle" style="font-size:17.40px">9</text>
<g transform="translate(352.65 343.10) rotate(-90)"><path d="M-19.70 0.0 C-19.10 -1.3 -18.00 -2.0 -17.30 -1.3 C-16.60 -0.5 -17.60 2.1 -17.00 3.7 C-16.60 4.8 -15.70 5.2 -14.80 4.7 C-13.20 3.9 -12.10 1.5 -12.00 -1.6" stroke-width="1.35" fill="none" stroke="#141414" stroke-linecap="round"/><path d="M-14.80 -3.3 Q-12.50 -5.9 -10.30 -3.3" stroke-width="1.05" fill="none" stroke="#141414"/><path d="M-6.5 2.9 L-8.3 4.4 C-8.1 5.6 -7.8 6.7 -7.4 7.4" stroke="#141414" stroke-width="1.35" stroke-linecap="round" fill="none"/><circle cx="0" cy="0" r="4.6" fill="none" stroke="#141414" stroke-width="1.05"/><circle cx="0" cy="0.1" r="1.05" fill="#141414"/><path d="M10.10 0.0 C10.70 -1.3 11.80 -2.0 12.50 -1.3 C13.20 -0.5 12.20 2.1 12.80 3.7 C13.20 4.8 14.10 5.2 15.00 4.7 C16.60 3.9 17.70 1.5 17.80 -1.6" stroke-width="1.35" fill="none" stroke="#141414" stroke-linecap="round"/><path d="M15.00 -3.3 Q17.30 -5.9 19.50 -3.3" stroke-width="1.05" fill="none" stroke="#141414"/><path d="M22.8 2.9 C21.7 3.6 21.1 5.0 21.6 6.3 C21.9 7.1 22.3 7.6 22.7 7.6 M24.3 5.45 H28.0 M26.15 3.5 V7.3 M30.4 2.8 C29.5 4.0 29.2 5.8 29.5 6.7 C29.7 7.4 30.1 7.7 30.5 7.5" stroke="#141414" stroke-width="1.3" stroke-linecap="round" fill="none"/><path d="M-28.7 -5.1 C-29.3 -5.8 -30.4 -5.1 -30.9 -3.8 L-34.3 6.6 C-34.8 8.0 -35.8 8.6 -36.6 7.8" stroke="#141414" stroke-width="1.6" fill="none" stroke-linecap="round"/><path d="M-33.5 -1.45 H-29.8" stroke="#141414" stroke-width="1.1" fill="none"/><path d="M-27.2 2.9 L-27.0 7.2" stroke="#141414" stroke-width="1.3" stroke-linecap="round"/><text x="-22.94" y="5.30" text-anchor="middle" style="font-size:17.00px">(</text><text x="33.91" y="5.30" text-anchor="middle" style="font-size:17.00px">)</text></g>
<g transform="translate(526.20 470.90)"><path d="M-19.70 0.0 C-19.10 -1.3 -18.00 -2.0 -17.30 -1.3 C-16.60 -0.5 -17.60 2.1 -17.00 3.7 C-16.60 4.8 -15.70 5.2 -14.80 4.7 C-13.20 3.9 -12.10 1.5 -12.00 -1.6" stroke-width="1.35" fill="none" stroke="#141414" stroke-linecap="round"/><path d="M-14.80 -3.3 Q-12.50 -5.9 -10.30 -3.3" stroke-width="1.05" fill="none" stroke="#141414"/><path d="M-6.5 2.9 L-8.3 4.4 C-8.1 5.6 -7.8 6.7 -7.4 7.4" stroke="#141414" stroke-width="1.35" stroke-linecap="round" fill="none"/><circle cx="0" cy="0" r="4.6" fill="none" stroke="#141414" stroke-width="1.05"/><circle cx="0" cy="0.1" r="1.05" fill="#141414"/><path d="M10.10 0.0 C10.70 -1.3 11.80 -2.0 12.50 -1.3 C13.20 -0.5 12.20 2.1 12.80 3.7 C13.20 4.8 14.10 5.2 15.00 4.7 C16.60 3.9 17.70 1.5 17.80 -1.6" stroke-width="1.35" fill="none" stroke="#141414" stroke-linecap="round"/><path d="M15.00 -3.3 Q17.30 -5.9 19.50 -3.3" stroke-width="1.05" fill="none" stroke="#141414"/><path d="M22.8 2.9 C21.7 3.6 21.1 5.0 21.6 6.3 C21.9 7.1 22.3 7.6 22.7 7.6 M24.3 5.45 H28.0 M26.15 3.5 V7.3 M30.4 2.8 C29.5 4.0 29.2 5.8 29.5 6.7 C29.7 7.4 30.1 7.7 30.5 7.5" stroke="#141414" stroke-width="1.3" stroke-linecap="round" fill="none"/></g>
<clipPath id="cp02"><rect x="52.60" y="494.40" width="266.30" height="189.85"/></clipPath>
<line x1="52.60" y1="646.28" x2="318.90" y2="646.28" stroke="#222" stroke-width="1.1" stroke-dasharray="3.4 7.05"/>
<g clip-path="url(#cp02)" fill="none" stroke-width="1" stroke-linejoin="round">
<path stroke="rgb(140,248,60)" d="M53.3 633.5L55.4 635.3L57.5 637.1L59.7 638.0L61.8 639.9L63.9 640.4L66.1 641.9L68.2 642.4L70.3 644.1L72.4 647.6L74.6 647.8L76.7 648.2L78.8 650.1L81.0 650.2L83.1 651.7L85.2 652.5L87.4 653.9L89.5 654.5L91.6 655.1L93.8 657.5L95.9 658.0L98.0 659.0L100.2 657.9L102.3 659.8L104.4 660.6L106.6 661.5L108.7 662.7L110.8 663.5L112.9 662.8L115.1 664.3L117.2 663.3L119.3 664.8L121.5 665.3L123.6 666.1L125.7 666.5L127.9 667.0L130.0 666.4L132.1 666.4L134.3 669.5L136.4 668.9L138.5 668.9L140.7 670.4L142.8 670.4L144.9 670.5L147.1 672.2L149.2 670.1L151.3 670.8L153.4 671.0L155.6 671.0L157.7 671.0L159.8 669.6L162.0 671.4L164.1 671.0L166.2 672.2L168.4 671.7L170.5 672.4L172.6 672.4L174.8 673.0L176.9 673.0L179.0 672.1L181.2 671.9L183.3 672.0L185.4 672.8L187.5 671.8L189.7 673.8L191.8 670.8L193.9 671.3L196.1 670.7L198.2 669.7L200.3 670.6L202.5 669.2L204.6 669.9L206.7 668.8L208.9 669.0L211.0 668.0L213.1 666.6L215.3 667.6L217.4 667.0L219.5 666.1L221.7 665.0L223.8 662.5L225.9 664.3L228.0 664.7L230.2 662.8L232.3 662.7L234.4 661.0L236.6 659.7L238.7 659.4L240.8 658.2L243.0 658.1L245.1 655.3L247.2 654.8L249.4 652.0L251.5 650.6L253.6 650.5L255.8 648.4L257.9 646.3L260.0 643.9L262.2 643.8L264.3 640.6L266.4 637.0L268.5 636.3L270.7 633.7L272.8 631.4L274.9 629.7L277.1 625.2L279.2 622.7L281.3 619.3L283.5 615.0L285.6 611.0L287.7 609.0L289.9 603.2L292.0 599.9L294.1 595.0L296.3 591.1L298.4 586.7L300.5 580.2L302.6 574.5L304.8 566.2L306.9 556.7L309.0 546.0L311.2 534.0L313.3 521.3L315.4 507.4L317.6 493.6"/>
<path stroke="rgb(255,170,80)" d="M53.3 616.8L55.4 617.6L57.5 620.9L59.7 620.3L61.8 623.4L63.9 624.8L66.1 627.1L68.2 628.4L70.3 628.0L72.4 630.6L74.6 632.6L76.7 634.2L78.8 636.0L81.0 640.0L83.1 640.1L85.2 641.0L87.4 640.8L89.5 641.6L91.6 644.8L93.8 645.8L95.9 646.7L98.0 647.8L100.2 650.3L102.3 650.7L104.4 653.2L106.6 655.9L108.7 656.1L110.8 656.0L112.9 656.5L115.1 659.8L117.2 660.3L119.3 659.8L121.5 663.0L123.6 660.6L125.7 660.9L127.9 664.5L130.0 662.2L132.1 663.5L134.3 662.8L136.4 664.1L138.5 664.9L140.7 665.1L142.8 664.8L144.9 665.8L147.1 666.3L149.2 667.7L151.3 666.6L153.4 667.3L155.6 666.2L157.7 667.9L159.8 668.3L162.0 669.1L164.1 668.4L166.2 669.5L168.4 670.2L170.5 668.8L172.6 668.9L174.8 670.9L176.9 671.5L179.0 670.0L181.2 671.5L183.3 668.6L185.4 670.8L187.5 669.9L189.7 671.4L191.8 670.3L193.9 669.2L196.1 669.5L198.2 670.0L200.3 667.5L202.5 668.6L204.6 669.1L206.7 669.0L208.9 668.4L211.0 666.7L213.1 667.9L215.3 666.8L217.4 666.9L219.5 664.8L221.7 665.3L223.8 663.9L225.9 663.4L228.0 663.5L230.2 661.7L232.3 660.7L234.4 661.3L236.6 659.0L238.7 655.8L240.8 657.8L243.0 656.1L245.1 656.5L247.2 654.0L249.4 653.7L251.5 651.5L253.6 650.9L255.8 650.6L257.9 647.7L260.0 647.6L262.2 647.2L264.3 645.3L266.4 644.7L268.5 641.9L270.7 640.4L272.8 638.6L274.9 635.8L277.1 635.2L279.2 631.4L281.3 631.4L283.5 626.1L285.6 624.4L287.7 621.6L289.9 618.8L292.0 614.4L294.1 611.5L296.3 607.8L298.4 602.9L300.5 599.7L302.6 594.8L304.8 588.9L306.9 581.5L309.0 574.4L311.2 566.9L313.3 559.6L315.4 550.8L317.6 541.6"/>
<path stroke="rgb(85,115,255)" d="M53.3 600.9L55.4 601.7L57.5 603.8L59.7 605.5L61.8 607.0L63.9 610.4L66.1 612.5L68.2 614.1L70.3 618.2L72.4 620.3L74.6 622.5L76.7 624.7L78.8 627.0L81.0 629.9L83.1 630.2L85.2 634.2L87.4 635.9L89.5 637.2L91.6 639.6L93.8 641.9L95.9 642.9L98.0 643.7L100.2 645.4L102.3 646.0L104.4 648.2L106.6 648.5L108.7 651.0L110.8 651.7L112.9 653.3L115.1 652.7L117.2 655.4L119.3 656.1L121.5 658.2L123.6 658.6L125.7 659.6L127.9 661.0L130.0 660.5L132.1 663.2L134.3 662.2L136.4 661.3L138.5 664.6L140.7 664.5L142.8 666.2L144.9 665.5L147.1 667.3L149.2 665.9L151.3 667.2L153.4 668.6L155.6 668.6L157.7 669.2L159.8 668.5L162.0 668.0L164.1 669.3L166.2 670.3L168.4 670.4L170.5 670.0L172.6 672.3L174.8 670.2L176.9 670.5L179.0 672.8L181.2 670.0L183.3 672.1L185.4 670.9L187.5 669.7L189.7 671.8L191.8 671.8L193.9 671.0L196.1 670.8L198.2 669.8L200.3 669.9L202.5 669.6L204.6 669.3L206.7 668.8L208.9 668.9L211.0 667.6L213.1 667.4L215.3 667.7L217.4 664.9L219.5 666.8L221.7 664.7L223.8 665.2L225.9 663.7L228.0 662.8L230.2 661.7L232.3 660.4L234.4 661.2L236.6 657.4L238.7 658.3L240.8 658.3L243.0 657.7L245.1 653.7L247.2 653.0L249.4 653.0L251.5 651.2L253.6 649.5L255.8 649.4L257.9 648.9L260.0 648.0L262.2 646.7L264.3 646.5L266.4 646.0L268.5 642.6L270.7 642.6L272.8 640.1L274.9 636.8L277.1 635.8L279.2 634.0L281.3 631.9L283.5 628.8L285.6 626.9L287.7 625.6L289.9 621.0L292.0 620.7L294.1 616.9L296.3 610.9L298.4 608.1L300.5 605.7L302.6 601.7L304.8 597.8L306.9 593.0L309.0 590.0L311.2 585.1L313.3 579.4L315.4 572.6L317.6 565.8"/>
<path stroke="rgb(255,70,70)" d="M53.3 587.9L55.4 589.2L57.5 594.7L59.7 597.9L61.8 601.7L63.9 605.2L66.1 607.0L68.2 612.3L70.3 617.0L72.4 619.7L74.6 622.9L76.7 623.5L78.8 625.2L81.0 627.2L83.1 631.2L85.2 632.7L87.4 633.1L89.5 636.4L91.6 636.8L93.8 638.1L95.9 641.9L98.0 641.4L100.2 643.4L102.3 645.1L104.4 646.5L106.6 649.3L108.7 651.0L110.8 651.9L112.9 653.9L115.1 654.5L117.2 657.8L119.3 656.2L121.5 659.0L123.6 659.1L125.7 660.0L127.9 660.9L130.0 661.6L132.1 662.3L134.3 664.2L136.4 663.9L138.5 663.1L140.7 665.3L142.8 665.9L144.9 663.9L147.1 665.0L149.2 665.2L151.3 666.8L153.4 667.0L155.6 667.0L157.7 667.5L159.8 668.4L162.0 669.8L164.1 669.6L166.2 670.6L168.4 668.5L170.5 670.4L172.6 670.5L174.8 670.4L176.9 670.8L179.0 670.5L181.2 671.4L183.3 672.1L185.4 669.4L187.5 671.2L189.7 670.9L191.8 671.0L193.9 670.6L196.1 669.9L198.2 669.1L200.3 670.3L202.5 669.0L204.6 669.5L206.7 667.7L208.9 669.2L211.0 667.7L213.1 666.8L215.3 667.9L217.4 666.3L219.5 665.7L221.7 665.9L223.8 664.8L225.9 663.2L228.0 663.0L230.2 662.7L232.3 661.6L234.4 660.2L236.6 658.6L238.7 658.0L240.8 657.1L243.0 655.5L245.1 656.7L247.2 655.4L249.4 654.8L251.5 651.2L253.6 652.3L255.8 649.5L257.9 648.0L260.0 649.0L262.2 647.9L264.3 646.7L266.4 644.5L268.5 644.3L270.7 641.0L272.8 639.1L274.9 638.0L277.1 636.6L279.2 634.1L281.3 633.1L283.5 631.1L285.6 628.8L287.7 625.5L289.9 623.6L292.0 620.2L294.1 617.9L296.3 614.3L298.4 613.0L300.5 609.5L302.6 606.3L304.8 603.1L306.9 599.0L309.0 595.8L311.2 591.3L313.3 586.0L315.4 581.6L317.6 577.5"/>
<path stroke="rgb(135,75,212)" d="M53.3 588.4L55.4 588.9L57.5 593.6L59.7 596.9L61.8 600.7L63.9 603.1L66.1 606.7L68.2 612.3L70.3 615.1L72.4 618.8L74.6 622.2L76.7 622.9L78.8 625.6L81.0 627.3L83.1 627.9L85.2 630.9L87.4 633.0L89.5 635.9L91.6 638.2L93.8 638.1L95.9 640.8L98.0 642.0L100.2 643.9L102.3 645.4L104.4 645.7L106.6 649.6L108.7 651.0L110.8 651.9L112.9 653.0L115.1 655.5L117.2 657.5L119.3 658.0L121.5 658.8L123.6 660.2L125.7 661.2L127.9 661.8L130.0 662.1L132.1 662.5L134.3 664.2L136.4 664.0L138.5 663.8L140.7 664.7L142.8 666.1L144.9 665.9L147.1 666.1L149.2 665.9L151.3 668.1L153.4 666.8L155.6 668.0L157.7 667.9L159.8 667.9L162.0 669.4L164.1 669.7L166.2 669.6L168.4 669.3L170.5 670.6L172.6 671.5L174.8 671.2L176.9 670.6L179.0 670.1L181.2 671.4L183.3 671.2L185.4 671.0L187.5 670.8L189.7 671.3L191.8 670.7L193.9 670.1L196.1 669.9L198.2 669.8L200.3 670.3L202.5 669.7L204.6 669.6L206.7 667.9L208.9 667.2L211.0 667.6L213.1 666.2L215.3 667.2L217.4 666.6L219.5 666.9L221.7 665.1L223.8 665.0L225.9 663.9L228.0 662.9L230.2 662.6L232.3 662.4L234.4 660.6L236.6 659.7L238.7 658.7L240.8 657.2L243.0 656.9L245.1 655.8L247.2 653.1L249.4 652.3L251.5 651.9L253.6 651.3L255.8 649.9L257.9 648.4L260.0 647.4L262.2 645.6L264.3 646.8L266.4 645.3L268.5 644.2L270.7 642.3L272.8 641.1L274.9 640.2L277.1 637.1L279.2 636.1L281.3 633.5L283.5 632.9L285.6 630.3L287.7 627.7L289.9 627.1L292.0 623.9L294.1 619.4L296.3 617.0L298.4 615.6L300.5 611.9L302.6 609.3L304.8 606.2L306.9 602.0L309.0 600.6L311.2 595.0L313.3 592.2L315.4 587.4L317.6 579.9"/>
</g>
<rect x="52.60" y="494.40" width="266.30" height="189.85" fill="none" stroke="#3a3a3a" stroke-width="1.15"/>
<path d="M105.86 684.25v-3.7M105.86 494.40v3.7M159.12 684.25v-3.7M159.12 494.40v3.7M212.38 684.25v-3.7M212.38 494.40v3.7M265.64 684.25v-3.7M265.64 494.40v3.7M52.60 646.28h5.2M318.90 646.28h-5.2M52.60 608.31h5.2M318.90 608.31h-5.2M52.60 570.34h5.2M318.90 570.34h-5.2M52.60 532.37h5.2M318.90 532.37h-5.2" stroke="#3a3a3a" stroke-width="1.1" fill="none"/>
<text transform="translate(28.95 684.95) scale(1.080 1)" text-anchor="middle" style="font-size:16.40px">0</text>
<text x="35.90" y="684.95" text-anchor="middle" style="font-size:16.40px">.</text>
<text transform="translate(42.86 684.95) scale(1.080 1)" text-anchor="middle" style="font-size:16.40px">4</text>
<text transform="translate(28.95 652.28) scale(1.080 1)" text-anchor="middle" style="font-size:16.40px">0</text>
<text x="35.90" y="652.28" text-anchor="middle" style="font-size:16.40px">.</text>
<text transform="translate(42.72 652.28) scale(1.080 1)" text-anchor="middle" style="font-size:16.40px">5</text>
<text transform="translate(28.95 614.31) scale(1.080 1)" text-anchor="middle" style="font-size:16.40px">0</text>
<text x="35.90" y="614.31" text-anchor="middle" style="font-size:16.40px">.</text>
<text transform="translate(42.76 614.31) scale(1.080 1)" text-anchor="middle" style="font-size:16.40px">6</text>
<text transform="translate(28.95 576.34) scale(1.080 1)" text-anchor="middle" style="font-size:16.40px">0</text>
<text x="35.90" y="576.34" text-anchor="middle" style="font-size:16.40px">.</text>
<text transform="translate(42.60 576.34) scale(1.080 1)" text-anchor="middle" style="font-size:16.40px">7</text>
<text transform="translate(28.95 538.37) scale(1.080 1)" text-anchor="middle" style="font-size:16.40px">0</text>
<text x="35.90" y="538.37" text-anchor="middle" style="font-size:16.40px">.</text>
<text transform="translate(42.90 538.37) scale(1.080 1)" text-anchor="middle" style="font-size:16.40px">8</text>
<text transform="translate(28.95 505.10) scale(1.080 1)" text-anchor="middle" style="font-size:16.40px">0</text>
<text x="35.90" y="505.10" text-anchor="middle" style="font-size:16.40px">.</text>
<text transform="translate(42.99 505.10) scale(1.080 1)" text-anchor="middle" style="font-size:16.40px">9</text>
<path d="M36.10 701.25H44.70" stroke="#2a2a2a" stroke-width="1.10"/>
<text transform="translate(51.03 705.75) scale(1.080 1)" text-anchor="middle" style="font-size:16.40px">1</text>
<text x="58.15" y="705.75" text-anchor="middle" style="font-size:16.40px">.</text>
<text transform="translate(65.10 705.75) scale(1.080 1)" text-anchor="middle" style="font-size:16.40px">0</text>
<path d="M89.36 701.25H97.96" stroke="#2a2a2a" stroke-width="1.10"/>
<text transform="translate(104.56 705.75) scale(1.080 1)" text-anchor="middle" style="font-size:16.40px">0</text>
<text x="111.41" y="705.75" text-anchor="middle" style="font-size:16.40px">.</text>
<text transform="translate(118.22 705.75) scale(1.080 1)" text-anchor="middle" style="font-size:16.40px">6</text>
<path d="M142.62 701.25H151.22" stroke="#2a2a2a" stroke-width="1.10"/>
<text transform="translate(157.82 705.75) scale(1.080 1)" text-anchor="middle" style="font-size:16.40px">0</text>
<text x="164.67" y="705.75" text-anchor="middle" style="font-size:16.40px">.</text>
<text transform="translate(171.71 705.75) scale(1.080 1)" text-anchor="middle" style="font-size:16.40px">2</text>
<text transform="translate(205.38 705.75) scale(1.080 1)" text-anchor="middle" style="font-size:16.40px">0</text>
<text x="212.38" y="705.75" text-anchor="middle" style="font-size:16.40px">.</text>
<text transform="translate(219.47 705.75) scale(1.080 1)" text-anchor="middle" style="font-size:16.40px">2</text>
<text transform="translate(258.64 705.75) scale(1.080 1)" text-anchor="middle" style="font-size:16.40px">0</text>
<text x="265.64" y="705.75" text-anchor="middle" style="font-size:16.40px">.</text>
<text transform="translate(272.50 705.75) scale(1.080 1)" text-anchor="middle" style="font-size:16.40px">6</text>
<text transform="translate(311.63 705.75) scale(1.080 1)" text-anchor="middle" style="font-size:16.40px">1</text>
<text x="318.90" y="705.75" text-anchor="middle" style="font-size:16.40px">.</text>
<text transform="translate(325.90 705.75) scale(1.080 1)" text-anchor="middle" style="font-size:16.40px">0</text>
<path d="M238.80 527.60H257.50" stroke="rgb(198,254,150)" stroke-width="1.4"/>
<path d="M267.25 520.70 C266.65 523.60 265.45 525.60 265.65 527.00 C265.85 527.90 266.95 527.70 267.65 526.60" stroke="#141414" stroke-width="1.45" fill="none" stroke-linecap="round"/>
<path d="M269.30 522.60H275.60" stroke="#2a2a2a" stroke-width="1.05"/>
<path d="M269.30 525.40H275.60" stroke="#2a2a2a" stroke-width="1.05"/>
<text x="279.83" y="527.50" text-anchor="middle" style="font-size:11.20px;font-weight:bold">1</text>
<path d="M238.80 541.84H257.50" stroke="rgb(255,205,160)" stroke-width="1.4"/>
<path d="M267.25 534.94 C266.65 537.84 265.45 539.84 265.65 541.24 C265.85 542.14 266.95 541.94 267.65 540.84" stroke="#141414" stroke-width="1.45" fill="none" stroke-linecap="round"/>
<path d="M269.30 536.84H275.60" stroke="#2a2a2a" stroke-width="1.05"/>
<path d="M269.30 539.64H275.60" stroke="#2a2a2a" stroke-width="1.05"/>
<text x="280.02" y="541.74" text-anchor="middle" style="font-size:11.20px;font-weight:bold">2</text>
<path d="M238.80 556.08H257.50" stroke="rgb(160,178,255)" stroke-width="1.4"/>
<path d="M267.25 549.18 C266.65 552.08 265.45 554.08 265.65 555.48 C265.85 556.38 266.95 556.18 267.65 555.08" stroke="#141414" stroke-width="1.45" fill="none" stroke-linecap="round"/>
<path d="M269.30 551.08H275.60" stroke="#2a2a2a" stroke-width="1.05"/>
<path d="M269.30 553.88H275.60" stroke="#2a2a2a" stroke-width="1.05"/>
<text x="280.02" y="555.98" text-anchor="middle" style="font-size:11.20px;font-weight:bold">4</text>
<path d="M238.80 570.32H257.50" stroke="rgb(255,150,150)" stroke-width="1.4"/>
<path d="M267.25 563.42 C266.65 566.32 265.45 568.32 265.65 569.72 C265.85 570.62 266.95 570.42 267.65 569.32" stroke="#141414" stroke-width="1.45" fill="none" stroke-linecap="round"/>
<path d="M269.30 565.32H275.60" stroke="#2a2a2a" stroke-width="1.05"/>
<path d="M269.30 568.12H275.60" stroke="#2a2a2a" stroke-width="1.05"/>
<text x="280.00" y="570.22" text-anchor="middle" style="font-size:11.20px;font-weight:bold">8</text>
<path d="M238.80 584.56H257.50" stroke="rgb(185,150,232)" stroke-width="1.4"/>
<path d="M267.25 577.66 C266.65 580.56 265.45 582.56 265.65 583.96 C265.85 584.86 266.95 584.66 267.65 583.56" stroke="#141414" stroke-width="1.45" fill="none" stroke-linecap="round"/>
<path d="M269.30 579.56H275.60" stroke="#2a2a2a" stroke-width="1.05"/>
<path d="M269.30 582.36H275.60" stroke="#2a2a2a" stroke-width="1.05"/>
<text x="279.83" y="584.46" text-anchor="middle" style="font-size:11.20px;font-weight:bold">1</text>
<text x="286.73" y="584.46" text-anchor="middle" style="font-size:11.20px;font-weight:bold">6</text>
<text x="62.29" y="517.40" text-anchor="middle" style="font-size:19.60px">(</text>
<text x="71.04" y="517.90" text-anchor="middle" style="font-size:19.60px">e</text>
<text x="80.33" y="517.40" text-anchor="middle" style="font-size:19.60px">)</text>
<text x="68.85" y="541.90" text-anchor="middle" style="font-size:19.00px">(</text>
<text x="134.20" y="541.90" text-anchor="middle" style="font-size:19.00px">(</text>
<text x="113.37" y="541.90" text-anchor="middle" style="font-size:19.00px">)</text>
<text x="188.57" y="541.90" text-anchor="middle" style="font-size:19.00px">)</text>
<text transform="translate(77.59 541.80) scale(1.250 1)" text-anchor="middle" style="font-size:16.80px;font-style:italic;stroke:#141414;stroke-width:0.22px">s</text>
<text transform="translate(106.04 541.80) scale(1.250 1)" text-anchor="middle" style="font-size:16.80px;font-style:italic;stroke:#141414;stroke-width:0.22px">s</text>
<text transform="translate(84.69 549.90) scale(0.760 1)" text-anchor="middle" style="font-size:10.80px;stroke:#141414;stroke-width:0.25px">A</text>
<text x="90.37" y="542.50" text-anchor="middle" style="font-size:17.20px">,</text>
<text x="164.22" y="542.50" text-anchor="middle" style="font-size:17.20px">,</text>
<path d="M118.95 535.57H128.85" stroke="#2a2a2a" stroke-width="1.10"/>
<path d="M118.95 538.65H128.85" stroke="#2a2a2a" stroke-width="1.10"/>
<path d="M139.85 537.37H148.95" stroke="#2a2a2a" stroke-width="1.10"/>
<text transform="translate(155.92 542.50) scale(1.100 1)" text-anchor="middle" style="font-size:17.20px">1</text>
<text transform="translate(179.76 542.50) scale(1.150 1)" text-anchor="middle" style="font-size:17.20px">4</text>
<text transform="translate(71.11 569.70) scale(1.050 1)" text-anchor="middle" style="font-size:17.50px;font-style:italic;stroke:#141414;stroke-width:0.35px">q</text>
<path d="M77.96 564.35H87.80" stroke="#2a2a2a" stroke-width="1.10"/>
<path d="M77.96 567.43H87.80" stroke="#2a2a2a" stroke-width="1.10"/>
<text x="94.29" y="570.30" text-anchor="middle" style="font-size:17.40px">1</text>
<text x="102.30" y="570.30" text-anchor="middle" style="font-size:17.40px">.</text>
<text x="109.79" y="570.30" text-anchor="middle" style="font-size:17.40px">1</text>
<text transform="translate(120.21 570.30) scale(1.120 1)" text-anchor="middle" style="font-size:17.40px">5</text>
<g transform="translate(6.45 590.10) rotate(-90)"><path d="M-19.70 0.0 C-19.10 -1.3 -18.00 -2.0 -17.30 -1.3 C-16.60 -0.5 -17.60 2.1 -17.00 3.7 C-16.60 4.8 -15.70 5.2 -14.80 4.7 C-13.20 3.9 -12.10 1.5 -12.00 -1.6" stroke-width="1.35" fill="none" stroke="#141414" stroke-linecap="round"/><path d="M-14.80 -3.3 Q-12.50 -5.9 -10.30 -3.3" stroke-width="1.05" fill="none" stroke="#141414"/><path d="M-6.5 2.9 L-8.3 4.4 C-8.1 5.6 -7.8 6.7 -7.4 7.4" stroke="#141414" stroke-width="1.35" stroke-linecap="round" fill="none"/><circle cx="0" cy="0" r="4.6" fill="none" stroke="#141414" stroke-width="1.05"/><circle cx="0" cy="0.1" r="1.05" fill="#141414"/><path d="M10.10 0.0 C10.70 -1.3 11.80 -2.0 12.50 -1.3 C13.20 -0.5 12.20 2.1 12.80 3.7 C13.20 4.8 14.10 5.2 15.00 4.7 C16.60 3.9 17.70 1.5 17.80 -1.6" stroke-width="1.35" fill="none" stroke="#141414" stroke-linecap="round"/><path d="M15.00 -3.3 Q17.30 -5.9 19.50 -3.3" stroke-width="1.05" fill="none" stroke="#141414"/><path d="M22.8 2.9 C21.7 3.6 21.1 5.0 21.6 6.3 C21.9 7.1 22.3 7.6 22.7 7.6 M24.3 5.45 H28.0 M26.15 3.5 V7.3 M30.4 2.8 C29.5 4.0 29.2 5.8 29.5 6.7 C29.7 7.4 30.1 7.7 30.5 7.5" stroke="#141414" stroke-width="1.3" stroke-linecap="round" fill="none"/><path d="M-28.7 -5.1 C-29.3 -5.8 -30.4 -5.1 -30.9 -3.8 L-34.3 6.6 C-34.8 8.0 -35.8 8.6 -36.6 7.8" stroke="#141414" stroke-width="1.6" fill="none" stroke-linecap="round"/><path d="M-33.5 -1.45 H-29.8" stroke="#141414" stroke-width="1.1" fill="none"/><path d="M-27.2 2.9 L-27.0 7.2" stroke="#141414" stroke-width="1.3" stroke-linecap="round"/><text x="-22.94" y="5.30" text-anchor="middle" style="font-size:17.00px">(</text><text x="33.91" y="5.30" text-anchor="middle" style="font-size:17.00px">)</text></g>
<g transform="translate(180.00 717.90)"><path d="M-19.70 0.0 C-19.10 -1.3 -18.00 -2.0 -17.30 -1.3 C-16.60 -0.5 -17.60 2.1 -17.00 3.7 C-16.60 4.8 -15.70 5.2 -14.80 4.7 C-13.20 3.9 -12.10 1.5 -12.00 -1.6" stroke-width="1.35" fill="none" stroke="#141414" stroke-linecap="round"/><path d="M-14.80 -3.3 Q-12.50 -5.9 -10.30 -3.3" stroke-width="1.05" fill="none" stroke="#141414"/><path d="M-6.5 2.9 L-8.3 4.4 C-8.1 5.6 -7.8 6.7 -7.4 7.4" stroke="#141414" stroke-width="1.35" stroke-linecap="round" fill="none"/><circle cx="0" cy="0" r="4.6" fill="none" stroke="#141414" stroke-width="1.05"/><circle cx="0" cy="0.1" r="1.05" fill="#141414"/><path d="M10.10 0.0 C10.70 -1.3 11.80 -2.0 12.50 -1.3 C13.20 -0.5 12.20 2.1 12.80 3.7 C13.20 4.8 14.10 5.2 15.00 4.7 C16.60 3.9 17.70 1.5 17.80 -1.6" stroke-width="1.35" fill="none" stroke="#141414" stroke-linecap="round"/><path d="M15.00 -3.3 Q17.30 -5.9 19.50 -3.3" stroke-width="1.05" fill="none" stroke="#141414"/><path d="M22.8 2.9 C21.7 3.6 21.1 5.0 21.6 6.3 C21.9 7.1 22.3 7.6 22.7 7.6 M24.3 5.45 H28.0 M26.15 3.5 V7.3 M30.4 2.8 C29.5 4.0 29.2 5.8 29.5 6.7 C29.7 7.4 30.1 7.7 30.5 7.5" stroke="#141414" stroke-width="1.3" stroke-linecap="round" fill="none"/></g>
<clipPath id="cp12"><rect x="398.80" y="494.40" width="266.30" height="189.85"/></clipPath>
<line x1="398.80" y1="646.28" x2="665.10" y2="646.28" stroke="#222" stroke-width="1.1" stroke-dasharray="3.4 7.05"/>
<g clip-path="url(#cp12)" fill="none" stroke-width="1" stroke-linejoin="round">
<path stroke="rgb(140,248,60)" d="M399.5 632.4L401.6 634.6L403.7 636.4L405.9 638.8L408.0 640.1L410.1 643.5L412.3 644.0L414.4 644.5L416.5 646.3L418.6 647.5L420.8 649.7L422.9 649.4L425.0 649.5L427.2 651.4L429.3 652.1L431.4 653.4L433.6 654.2L435.7 655.8L437.8 657.5L440.0 658.1L442.1 659.2L444.2 661.3L446.4 660.7L448.5 661.4L450.6 661.9L452.8 663.2L454.9 663.3L457.0 664.1L459.1 666.0L461.3 666.4L463.4 667.2L465.5 668.2L467.7 670.2L469.8 670.9L471.9 670.7L474.1 672.0L476.2 669.8L478.3 672.8L480.5 673.2L482.6 672.5L484.7 673.7L486.9 675.4L489.0 674.1L491.1 675.0L493.3 675.0L495.4 676.1L497.5 675.9L499.6 675.6L501.8 675.7L503.9 676.6L506.0 676.4L508.2 676.6L510.3 675.8L512.4 676.0L514.6 676.9L516.7 675.4L518.8 676.5L521.0 675.6L523.1 676.6L525.2 675.7L527.4 676.0L529.5 675.9L531.6 675.5L533.7 675.5L535.9 675.6L538.0 675.5L540.1 676.5L542.3 675.4L544.4 676.9L546.5 676.7L548.7 675.1L550.8 674.7L552.9 673.0L555.1 672.9L557.2 671.8L559.3 672.0L561.5 670.5L563.6 669.0L565.7 668.5L567.9 667.7L570.0 667.0L572.1 667.0L574.2 666.1L576.4 665.7L578.5 663.5L580.6 663.1L582.8 662.5L584.9 660.8L587.0 660.6L589.2 658.3L591.3 656.6L593.4 656.6L595.6 656.3L597.7 655.7L599.8 651.8L602.0 651.5L604.1 651.3L606.2 648.0L608.4 648.1L610.5 645.1L612.6 642.6L614.7 640.3L616.9 638.4L619.0 633.1L621.1 632.4L623.3 628.7L625.4 625.7L627.5 623.3L629.7 618.4L631.8 613.1L633.9 606.7L636.1 600.8L638.2 592.7L640.3 585.0L642.5 575.0L644.6 566.9L646.7 553.0L648.8 540.9L651.0 527.5L653.1 516.1L655.2 501.8L657.4 488.4L659.5 483.0L661.6 483.0L663.8 483.0"/>
<path stroke="rgb(255,170,80)" d="M399.5 621.9L401.6 624.0L403.7 626.6L405.9 628.0L408.0 629.8L410.1 630.6L412.3 632.1L414.4 633.0L416.5 635.3L418.6 637.2L420.8 639.3L422.9 640.6L425.0 643.9L427.2 643.2L429.3 645.8L431.4 645.8L433.6 648.2L435.7 647.7L437.8 649.2L440.0 651.0L442.1 652.7L444.2 654.3L446.4 653.9L448.5 656.0L450.6 658.2L452.8 658.9L454.9 660.2L457.0 661.6L459.1 662.3L461.3 662.4L463.4 663.3L465.5 665.1L467.7 664.5L469.8 665.5L471.9 666.5L474.1 668.6L476.2 668.1L478.3 668.6L480.5 670.1L482.6 671.3L484.7 668.7L486.9 670.1L489.0 671.3L491.1 670.2L493.3 671.0L495.4 671.8L497.5 672.4L499.6 672.2L501.8 672.0L503.9 673.3L506.0 673.7L508.2 673.2L510.3 675.9L512.4 673.8L514.6 674.3L516.7 674.1L518.8 674.3L521.0 674.0L523.1 674.2L525.2 674.3L527.4 674.5L529.5 674.0L531.6 674.7L533.7 673.5L535.9 675.4L538.0 673.8L540.1 673.5L542.3 674.6L544.4 673.7L546.5 672.1L548.7 673.0L550.8 673.3L552.9 674.4L555.1 671.3L557.2 670.9L559.3 669.8L561.5 667.9L563.6 668.7L565.7 667.8L567.9 667.6L570.0 666.4L572.1 665.6L574.2 664.3L576.4 663.7L578.5 663.9L580.6 662.9L582.8 660.7L584.9 661.6L587.0 659.5L589.2 657.8L591.3 657.6L593.4 656.8L595.6 654.8L597.7 654.3L599.8 653.3L602.0 652.0L604.1 649.5L606.2 648.2L608.4 645.8L610.5 645.1L612.6 642.9L614.7 640.6L616.9 637.7L619.0 635.9L621.1 632.1L623.3 629.7L625.4 627.7L627.5 625.9L629.7 621.6L631.8 615.1L633.9 611.7L636.1 606.0L638.2 600.0L640.3 592.4L642.5 586.9L644.6 579.2L646.7 570.5L648.8 560.1L651.0 549.2L653.1 538.4L655.2 528.2L657.4 518.4L659.5 506.1L661.6 496.2L663.8 485.6"/>
<path stroke="rgb(85,115,255)" d="M399.5 604.7L401.6 606.5L403.7 608.4L405.9 610.1L408.0 612.6L410.1 613.6L412.3 616.2L414.4 617.6L416.5 622.3L418.6 622.6L420.8 626.2L422.9 629.2L425.0 632.8L427.2 635.7L429.3 638.5L431.4 638.4L433.6 640.8L435.7 641.7L437.8 643.3L440.0 646.0L442.1 647.5L444.2 649.5L446.4 650.7L448.5 653.6L450.6 655.1L452.8 655.3L454.9 656.3L457.0 655.0L459.1 657.8L461.3 657.0L463.4 658.0L465.5 660.9L467.7 660.3L469.8 661.5L471.9 661.9L474.1 664.3L476.2 663.9L478.3 665.6L480.5 665.8L482.6 665.2L484.7 667.1L486.9 669.3L489.0 669.3L491.1 669.8L493.3 668.8L495.4 670.7L497.5 672.0L499.6 670.5L501.8 671.7L503.9 672.1L506.0 673.3L508.2 671.9L510.3 673.3L512.4 674.9L514.6 674.5L516.7 674.5L518.8 674.1L521.0 673.6L523.1 674.8L525.2 674.8L527.4 672.7L529.5 674.3L531.6 674.7L533.7 674.2L535.9 675.1L538.0 673.6L540.1 673.1L542.3 674.0L544.4 672.6L546.5 673.4L548.7 672.7L550.8 673.2L552.9 672.8L555.1 672.7L557.2 670.8L559.3 670.5L561.5 669.7L563.6 669.5L565.7 668.8L567.9 667.6L570.0 666.0L572.1 665.4L574.2 665.4L576.4 663.9L578.5 662.0L580.6 662.5L582.8 660.2L584.9 660.6L587.0 659.0L589.2 659.5L591.3 657.2L593.4 657.9L595.6 655.6L597.7 654.7L599.8 654.6L602.0 652.8L604.1 649.4L606.2 648.4L608.4 646.2L610.5 645.4L612.6 646.0L614.7 641.7L616.9 640.5L619.0 638.5L621.1 636.6L623.3 634.8L625.4 632.7L627.5 628.6L629.7 626.3L631.8 624.0L633.9 620.3L636.1 615.6L638.2 612.2L640.3 608.1L642.5 604.7L644.6 599.3L646.7 594.8L648.8 589.9L651.0 581.5L653.1 574.3L655.2 565.2L657.4 556.0L659.5 545.1L661.6 535.8L663.8 529.2"/>
<path stroke="rgb(255,70,70)" d="M399.5 595.0L401.6 593.7L403.7 591.9L405.9 593.9L408.0 597.0L410.1 603.0L412.3 608.5L414.4 611.5L416.5 615.1L418.6 617.0L420.8 620.7L422.9 624.1L425.0 627.4L427.2 629.8L429.3 633.3L431.4 635.9L433.6 638.7L435.7 638.3L437.8 640.7L440.0 642.3L442.1 644.4L444.2 644.8L446.4 648.6L448.5 648.8L450.6 652.0L452.8 653.1L454.9 655.0L457.0 655.2L459.1 656.7L461.3 657.4L463.4 659.4L465.5 661.1L467.7 660.6L469.8 660.9L471.9 662.2L474.1 663.5L476.2 663.9L478.3 666.3L480.5 665.9L482.6 665.4L484.7 666.6L486.9 668.3L489.0 667.6L491.1 669.0L493.3 669.0L495.4 671.3L497.5 671.2L499.6 671.1L501.8 671.7L503.9 671.9L506.0 672.7L508.2 673.1L510.3 672.8L512.4 672.8L514.6 674.8L516.7 674.1L518.8 674.2L521.0 674.0L523.1 673.5L525.2 675.4L527.4 674.0L529.5 675.7L531.6 674.9L533.7 674.7L535.9 674.3L538.0 674.5L540.1 674.2L542.3 673.9L544.4 673.6L546.5 674.6L548.7 674.0L550.8 672.9L552.9 671.8L555.1 670.9L557.2 668.8L559.3 670.2L561.5 670.1L563.6 668.6L565.7 667.4L567.9 667.0L570.0 667.1L572.1 665.7L574.2 664.9L576.4 665.2L578.5 664.3L580.6 661.7L582.8 663.5L584.9 660.8L587.0 660.2L589.2 658.0L591.3 657.6L593.4 657.6L595.6 654.8L597.7 654.8L599.8 651.6L602.0 650.4L604.1 650.3L606.2 648.2L608.4 647.2L610.5 646.5L612.6 643.5L614.7 642.4L616.9 640.4L619.0 638.6L621.1 636.7L623.3 635.2L625.4 634.2L627.5 631.8L629.7 629.0L631.8 626.4L633.9 623.3L636.1 618.5L638.2 616.2L640.3 611.6L642.5 609.9L644.6 605.6L646.7 602.1L648.8 598.1L651.0 593.4L653.1 587.3L655.2 580.6L657.4 571.6L659.5 564.7L661.6 558.4L663.8 550.9"/>
<path stroke="rgb(135,75,212)" d="M399.5 574.7L401.6 578.6L403.7 583.5L405.9 586.5L408.0 592.9L410.1 597.0L412.3 600.1L414.4 607.9L416.5 610.6L418.6 614.0L420.8 618.7L422.9 622.6L425.0 625.8L427.2 629.3L429.3 630.5L431.4 630.7L433.6 632.2L435.7 633.2L437.8 635.7L440.0 638.7L442.1 643.5L444.2 644.9L446.4 646.6L448.5 648.0L450.6 649.7L452.8 652.1L454.9 651.2L457.0 652.3L459.1 652.5L461.3 655.3L463.4 656.2L465.5 658.4L467.7 660.3L469.8 660.7L471.9 662.9L474.1 662.8L476.2 663.9L478.3 665.5L480.5 664.5L482.6 665.4L484.7 666.6L486.9 667.0L489.0 667.0L491.1 669.0L493.3 670.6L495.4 671.0L497.5 670.3L499.6 671.2L501.8 673.0L503.9 671.3L506.0 672.5L508.2 671.7L510.3 672.3L512.4 673.7L514.6 673.5L516.7 674.4L518.8 674.6L521.0 674.4L523.1 673.9L525.2 673.3L527.4 675.0L529.5 673.8L531.6 674.3L533.7 674.4L535.9 673.3L538.0 674.2L540.1 672.7L542.3 673.8L544.4 674.1L546.5 672.5L548.7 674.0L550.8 673.5L552.9 672.3L555.1 671.6L557.2 671.1L559.3 671.7L561.5 670.5L563.6 668.3L565.7 667.4L567.9 667.8L570.0 666.1L572.1 665.4L574.2 664.1L576.4 664.7L578.5 662.2L580.6 662.8L582.8 660.7L584.9 660.2L587.0 660.8L589.2 659.3L591.3 657.8L593.4 656.1L595.6 656.7L597.7 654.7L599.8 652.4L602.0 651.2L604.1 650.9L606.2 649.4L608.4 647.1L610.5 646.9L612.6 644.6L614.7 642.7L616.9 642.0L619.0 642.6L621.1 638.3L623.3 636.9L625.4 635.1L627.5 633.6L629.7 633.0L631.8 627.9L633.9 626.0L636.1 623.1L638.2 621.1L640.3 617.9L642.5 614.2L644.6 608.9L646.7 605.7L648.8 601.8L651.0 598.3L653.1 592.8L655.2 588.8L657.4 583.7L659.5 577.5L661.6 571.9L663.8 566.5"/>
</g>
<rect x="398.80" y="494.40" width="266.30" height="189.85" fill="none" stroke="#3a3a3a" stroke-width="1.15"/>
<path d="M452.06 684.25v-3.7M452.06 494.40v3.7M505.32 684.25v-3.7M505.32 494.40v3.7M558.58 684.25v-3.7M558.58 494.40v3.7M611.84 684.25v-3.7M611.84 494.40v3.7M398.80 646.28h5.2M665.10 646.28h-5.2M398.80 608.31h5.2M665.10 608.31h-5.2M398.80 570.34h5.2M665.10 570.34h-5.2M398.80 532.37h5.2M665.10 532.37h-5.2" stroke="#3a3a3a" stroke-width="1.1" fill="none"/>
<text transform="translate(375.15 684.95) scale(1.080 1)" text-anchor="middle" style="font-size:16.40px">0</text>
<text x="382.10" y="684.95" text-anchor="middle" style="font-size:16.40px">.</text>
<text transform="translate(389.06 684.95) scale(1.080 1)" text-anchor="middle" style="font-size:16.40px">4</text>
<text transform="translate(375.15 652.28) scale(1.080 1)" text-anchor="middle" style="font-size:16.40px">0</text>
<text x="382.10" y="652.28" text-anchor="middle" style="font-size:16.40px">.</text>
<text transform="translate(388.92 652.28) scale(1.080 1)" text-anchor="middle" style="font-size:16.40px">5</text>
<text transform="translate(375.15 614.31) scale(1.080 1)" text-anchor="middle" style="font-size:16.40px">0</text>
<text x="382.10" y="614.31" text-anchor="middle" style="font-size:16.40px">.</text>
<text transform="translate(388.96 614.31) scale(1.080 1)" text-anchor="middle" style="font-size:16.40px">6</text>
<text transform="translate(375.15 576.34) scale(1.080 1)" text-anchor="middle" style="font-size:16.40px">0</text>
<text x="382.10" y="576.34" text-anchor="middle" style="font-size:16.40px">.</text>
<text transform="translate(388.80 576.34) scale(1.080 1)" text-anchor="middle" style="font-size:16.40px">7</text>
<text transform="translate(375.15 538.37) scale(1.080 1)" text-anchor="middle" style="font-size:16.40px">0</text>
<text x="382.10" y="538.37" text-anchor="middle" style="font-size:16.40px">.</text>
<text transform="translate(389.10 538.37) scale(1.080 1)" text-anchor="middle" style="font-size:16.40px">8</text>
<text transform="translate(375.15 505.10) scale(1.080 1)" text-anchor="middle" style="font-size:16.40px">0</text>
<text x="382.10" y="505.10" text-anchor="middle" style="font-size:16.40px">.</text>
<text transform="translate(389.19 505.10) scale(1.080 1)" text-anchor="middle" style="font-size:16.40px">9</text>
<path d="M382.30 701.25H390.90" stroke="#2a2a2a" stroke-width="1.10"/>
<text transform="translate(397.23 705.75) scale(1.080 1)" text-anchor="middle" style="font-size:16.40px">1</text>
<text x="404.35" y="705.75" text-anchor="middle" style="font-size:16.40px">.</text>
<text transform="translate(411.30 705.75) scale(1.080 1)" text-anchor="middle" style="font-size:16.40px">0</text>
<path d="M435.56 701.25H444.16" stroke="#2a2a2a" stroke-width="1.10"/>
<text transform="translate(450.76 705.75) scale(1.080 1)" text-anchor="middle" style="font-size:16.40px">0</text>
<text x="457.61" y="705.75" text-anchor="middle" style="font-size:16.40px">.</text>
<text transform="translate(464.42 705.75) scale(1.080 1)" text-anchor="middle" style="font-size:16.40px">6</text>
<path d="M488.82 701.25H497.42" stroke="#2a2a2a" stroke-width="1.10"/>
<text transform="translate(504.02 705.75) scale(1.080 1)" text-anchor="middle" style="font-size:16.40px">0</text>
<text x="510.87" y="705.75" text-anchor="middle" style="font-size:16.40px">.</text>
<text transform="translate(517.91 705.75) scale(1.080 1)" text-anchor="middle" style="font-size:16.40px">2</text>
<text transform="translate(551.58 705.75) scale(1.080 1)" text-anchor="middle" style="font-size:16.40px">0</text>
<text x="558.58" y="705.75" text-anchor="middle" style="font-size:16.40px">.</text>
<text transform="translate(565.67 705.75) scale(1.080 1)" text-anchor="middle" style="font-size:16.40px">2</text>
<text transform="translate(604.84 705.75) scale(1.080 1)" text-anchor="middle" style="font-size:16.40px">0</text>
<text x="611.84" y="705.75" text-anchor="middle" style="font-size:16.40px">.</text>
<text transform="translate(618.70 705.75) scale(1.080 1)" text-anchor="middle" style="font-size:16.40px">6</text>
<text transform="translate(657.83 705.75) scale(1.080 1)" text-anchor="middle" style="font-size:16.40px">1</text>
<text x="665.10" y="705.75" text-anchor="middle" style="font-size:16.40px">.</text>
<text transform="translate(672.10 705.75) scale(1.080 1)" text-anchor="middle" style="font-size:16.40px">0</text>
<path d="M585.00 527.60H603.70" stroke="rgb(198,254,150)" stroke-width="1.4"/>
<path d="M613.45 520.70 C612.85 523.60 611.65 525.60 611.85 527.00 C612.05 527.90 613.15 527.70 613.85 526.60" stroke="#141414" stroke-width="1.45" fill="none" stroke-linecap="round"/>
<path d="M615.50 522.60H621.80" stroke="#2a2a2a" stroke-width="1.05"/>
<path d="M615.50 525.40H621.80" stroke="#2a2a2a" stroke-width="1.05"/>
<text x="626.03" y="527.50" text-anchor="middle" style="font-size:11.20px;font-weight:bold">1</text>
<path d="M585.00 541.84H603.70" stroke="rgb(255,205,160)" stroke-width="1.4"/>
<path d="M613.45 534.94 C612.85 537.84 611.65 539.84 611.85 541.24 C612.05 542.14 613.15 541.94 613.85 540.84" stroke="#141414" stroke-width="1.45" fill="none" stroke-linecap="round"/>
<path d="M615.50 536.84H621.80" stroke="#2a2a2a" stroke-width="1.05"/>
<path d="M615.50 539.64H621.80" stroke="#2a2a2a" stroke-width="1.05"/>
<text x="626.22" y="541.74" text-anchor="middle" style="font-size:11.20px;font-weight:bold">2</text>
<path d="M585.00 556.08H603.70" stroke="rgb(160,178,255)" stroke-width="1.4"/>
<path d="M613.45 549.18 C612.85 552.08 611.65 554.08 611.85 555.48 C612.05 556.38 613.15 556.18 613.85 555.08" stroke="#141414" stroke-width="1.45" fill="none" stroke-linecap="round"/>
<path d="M615.50 551.08H621.80" stroke="#2a2a2a" stroke-width="1.05"/>
<path d="M615.50 553.88H621.80" stroke="#2a2a2a" stroke-width="1.05"/>
<text x="626.22" y="555.98" text-anchor="middle" style="font-size:11.20px;font-weight:bold">4</text>
<path d="M585.00 570.32H603.70" stroke="rgb(255,150,150)" stroke-width="1.4"/>
<path d="M613.45 563.42 C612.85 566.32 611.65 568.32 611.85 569.72 C612.05 570.62 613.15 570.42 613.85 569.32" stroke="#141414" stroke-width="1.45" fill="none" stroke-linecap="round"/>
<path d="M615.50 565.32H621.80" stroke="#2a2a2a" stroke-width="1.05"/>
<path d="M615.50 568.12H621.80" stroke="#2a2a2a" stroke-width="1.05"/>
<text x="626.20" y="570.22" text-anchor="middle" style="font-size:11.20px;font-weight:bold">8</text>
<path d="M585.00 584.56H603.70" stroke="rgb(185,150,232)" stroke-width="1.4"/>
<path d="M613.45 577.66 C612.85 580.56 611.65 582.56 611.85 583.96 C612.05 584.86 613.15 584.66 613.85 583.56" stroke="#141414" stroke-width="1.45" fill="none" stroke-linecap="round"/>
<path d="M615.50 579.56H621.80" stroke="#2a2a2a" stroke-width="1.05"/>
<path d="M615.50 582.36H621.80" stroke="#2a2a2a" stroke-width="1.05"/>
<text x="626.03" y="584.46" text-anchor="middle" style="font-size:11.20px;font-weight:bold">1</text>
<text x="632.93" y="584.46" text-anchor="middle" style="font-size:11.20px;font-weight:bold">6</text>
<text x="408.49" y="517.40" text-anchor="middle" style="font-size:19.60px">(</text>
<text x="415.40" y="517.90" text-anchor="middle" style="font-size:19.60px">f</text>
<text x="422.78" y="517.40" text-anchor="middle" style="font-size:19.60px">)</text>
<text x="415.00" y="541.90" text-anchor="middle" style="font-size:19.00px">(</text>
<text x="472.05" y="541.90" text-anchor="middle" style="font-size:19.00px">(</text>
<text x="451.22" y="541.90" text-anchor="middle" style="font-size:19.00px">)</text>
<text x="523.97" y="541.90" text-anchor="middle" style="font-size:19.00px">)</text>
<text transform="translate(423.49 541.80) scale(1.250 1)" text-anchor="middle" style="font-size:16.80px;font-style:italic;stroke:#141414;stroke-width:0.22px">s</text>
<text transform="translate(443.94 541.80) scale(1.250 1)" text-anchor="middle" style="font-size:16.80px;font-style:italic;stroke:#141414;stroke-width:0.22px">s</text>
<text transform="translate(430.89 549.90) scale(0.760 1)" text-anchor="middle" style="font-size:10.80px;stroke:#141414;stroke-width:0.25px">A</text>
<text x="436.42" y="542.50" text-anchor="middle" style="font-size:17.20px">,</text>
<text x="502.02" y="542.50" text-anchor="middle" style="font-size:17.20px">,</text>
<path d="M456.55 535.57H466.45" stroke="#2a2a2a" stroke-width="1.10"/>
<path d="M456.55 538.65H466.45" stroke="#2a2a2a" stroke-width="1.10"/>
<path d="M477.60 537.37H486.70" stroke="#2a2a2a" stroke-width="1.10"/>
<text transform="translate(494.17 542.50) scale(1.100 1)" text-anchor="middle" style="font-size:17.20px">1</text>
<text x="512.67" y="542.50" text-anchor="middle" style="font-size:18.50px">∞</text>
<text transform="translate(417.31 569.70) scale(1.050 1)" text-anchor="middle" style="font-size:17.50px;font-style:italic;stroke:#141414;stroke-width:0.35px">q</text>
<path d="M424.16 564.35H434.00" stroke="#2a2a2a" stroke-width="1.10"/>
<path d="M424.16 567.43H434.00" stroke="#2a2a2a" stroke-width="1.10"/>
<text x="440.49" y="570.30" text-anchor="middle" style="font-size:17.40px">1</text>
<text x="448.50" y="570.30" text-anchor="middle" style="font-size:17.40px">.</text>
<text x="455.99" y="570.30" text-anchor="middle" style="font-size:17.40px">1</text>
<text transform="translate(466.60 570.30) scale(1.120 1)" text-anchor="middle" style="font-size:17.40px">8</text>
<g transform="translate(352.65 590.10) rotate(-90)"><path d="M-19.70 0.0 C-19.10 -1.3 -18.00 -2.0 -17.30 -1.3 C-16.60 -0.5 -17.60 2.1 -17.00 3.7 C-16.60 4.8 -15.70 5.2 -14.80 4.7 C-13.20 3.9 -12.10 1.5 -12.00 -1.6" stroke-width="1.35" fill="none" stroke="#141414" stroke-linecap="round"/><path d="M-14.80 -3.3 Q-12.50 -5.9 -10.30 -3.3" stroke-width="1.05" fill="none" stroke="#141414"/><path d="M-6.5 2.9 L-8.3 4.4 C-8.1 5.6 -7.8 6.7 -7.4 7.4" stroke="#141414" stroke-width="1.35" stroke-linecap="round" fill="none"/><circle cx="0" cy="0" r="4.6" fill="none" stroke="#141414" stroke-width="1.05"/><circle cx="0" cy="0.1" r="1.05" fill="#141414"/><path d="M10.10 0.0 C10.70 -1.3 11.80 -2.0 12.50 -1.3 C13.20 -0.5 12.20 2.1 12.80 3.7 C13.20 4.8 14.10 5.2 15.00 4.7 C16.60 3.9 17.70 1.5 17.80 -1.6" stroke-width="1.35" fill="none" stroke="#141414" stroke-linecap="round"/><path d="M15.00 -3.3 Q17.30 -5.9 19.50 -3.3" stroke-width="1.05" fill="none" stroke="#141414"/><path d="M22.8 2.9 C21.7 3.6 21.1 5.0 21.6 6.3 C21.9 7.1 22.3 7.6 22.7 7.6 M24.3 5.45 H28.0 M26.15 3.5 V7.3 M30.4 2.8 C29.5 4.0 29.2 5.8 29.5 6.7 C29.7 7.4 30.1 7.7 30.5 7.5" stroke="#141414" stroke-width="1.3" stroke-linecap="round" fill="none"/><path d="M-28.7 -5.1 C-29.3 -5.8 -30.4 -5.1 -30.9 -3.8 L-34.3 6.6 C-34.8 8.0 -35.8 8.6 -36.6 7.8" stroke="#141414" stroke-width="1.6" fill="none" stroke-linecap="round"/><path d="M-33.5 -1.45 H-29.8" stroke="#141414" stroke-width="1.1" fill="none"/><path d="M-27.2 2.9 L-27.0 7.2" stroke="#141414" stroke-width="1.3" stroke-linecap="round"/><text x="-22.94" y="5.30" text-anchor="middle" style="font-size:17.00px">(</text><text x="33.91" y="5.30" text-anchor="middle" style="font-size:17.00px">)</text></g>
<g transform="translate(526.20 717.90)"><path d="M-19.70 0.0 C-19.10 -1.3 -18.00 -2.0 -17.30 -1.3 C-16.60 -0.5 -17.60 2.1 -17.00 3.7 C-16.60 4.8 -15.70 5.2 -14.80 4.7 C-13.20 3.9 -12.10 1.5 -12.00 -1.6" stroke-width="1.35" fill="none" stroke="#141414" stroke-linecap="round"/><path d="M-14.80 -3.3 Q-12.50 -5.9 -10.30 -3.3" stroke-width="1.05" fill="none" stroke="#141414"/><path d="M-6.5 2.9 L-8.3 4.4 C-8.1 5.6 -7.8 6.7 -7.4 7.4" stroke="#141414" stroke-width="1.35" stroke-linecap="round" fill="none"/><circle cx="0" cy="0" r="4.6" fill="none" stroke="#141414" stroke-width="1.05"/><circle cx="0" cy="0.1" r="1.05" fill="#141414"/><path d="M10.10 0.0 C10.70 -1.3 11.80 -2.0 12.50 -1.3 C13.20 -0.5 12.20 2.1 12.80 3.7 C13.20 4.8 14.10 5.2 15.00 4.7 C16.60 3.9 17.70 1.5 17.80 -1.6" stroke-width="1.35" fill="none" stroke="#141414" stroke-linecap="round"/><path d="M15.00 -3.3 Q17.30 -5.9 19.50 -3.3" stroke-width="1.05" fill="none" stroke="#141414"/><path d="M22.8 2.9 C21.7 3.6 21.1 5.0 21.6 6.3 C21.9 7.1 22.3 7.6 22.7 7.6 M24.3 5.45 H28.0 M26.15 3.5 V7.3 M30.4 2.8 C29.5 4.0 29.2 5.8 29.5 6.7 C29.7 7.4 30.1 7.7 30.5 7.5" stroke="#141414" stroke-width="1.3" stroke-linecap="round" fill="none"/></g>
</svg></body></html>
